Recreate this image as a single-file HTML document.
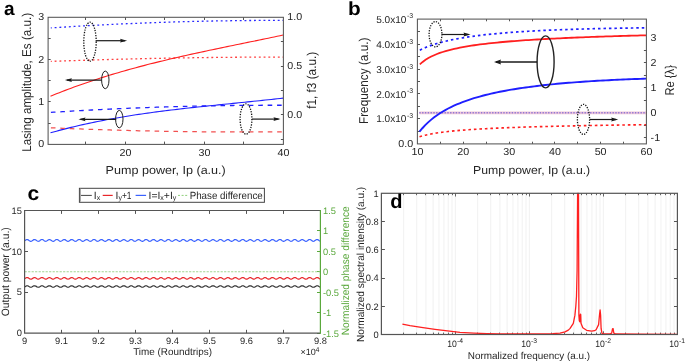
<!DOCTYPE html>
<html><head><meta charset="utf-8"><style>
html,body{margin:0;padding:0;background:#fff;}
svg{display:block;will-change:transform;}
text{font-family:"Liberation Sans", sans-serif;text-rendering:geometricPrecision;}
</style></head><body>
<svg width="685" height="362" viewBox="0 0 685 362">
<rect width="685" height="362" fill="#fff"/>
<line x1="85.5" y1="17.3" x2="85.5" y2="20.0" stroke="#555555" stroke-width="1"/>
<line x1="85.5" y1="144.4" x2="85.5" y2="141.6" stroke="#555555" stroke-width="1"/>
<line x1="125.5" y1="17.3" x2="125.5" y2="20.0" stroke="#555555" stroke-width="1"/>
<line x1="125.5" y1="144.4" x2="125.5" y2="141.6" stroke="#555555" stroke-width="1"/>
<line x1="164.5" y1="17.3" x2="164.5" y2="20.0" stroke="#555555" stroke-width="1"/>
<line x1="164.5" y1="144.4" x2="164.5" y2="141.6" stroke="#555555" stroke-width="1"/>
<line x1="204.5" y1="17.3" x2="204.5" y2="20.0" stroke="#555555" stroke-width="1"/>
<line x1="204.5" y1="144.4" x2="204.5" y2="141.6" stroke="#555555" stroke-width="1"/>
<line x1="243.5" y1="17.3" x2="243.5" y2="20.0" stroke="#555555" stroke-width="1"/>
<line x1="243.5" y1="144.4" x2="243.5" y2="141.6" stroke="#555555" stroke-width="1"/>
<line x1="48.1" y1="38.5" x2="50.7" y2="38.5" stroke="#555555" stroke-width="1"/>
<line x1="48.1" y1="59.5" x2="50.7" y2="59.5" stroke="#555555" stroke-width="1"/>
<line x1="48.1" y1="80.5" x2="50.7" y2="80.5" stroke="#555555" stroke-width="1"/>
<line x1="48.1" y1="101.5" x2="50.7" y2="101.5" stroke="#555555" stroke-width="1"/>
<line x1="48.1" y1="123.5" x2="50.7" y2="123.5" stroke="#555555" stroke-width="1"/>
<line x1="283.4" y1="41.5" x2="280.9" y2="41.5" stroke="#555555" stroke-width="1"/>
<line x1="283.4" y1="66.5" x2="280.9" y2="66.5" stroke="#555555" stroke-width="1"/>
<line x1="283.4" y1="90.5" x2="280.9" y2="90.5" stroke="#555555" stroke-width="1"/>
<line x1="283.4" y1="114.5" x2="280.9" y2="114.5" stroke="#555555" stroke-width="1"/>
<line x1="283.4" y1="139.5" x2="280.9" y2="139.5" stroke="#555555" stroke-width="1"/>
<path d="M50.80,27.93 L53.74,27.73 L56.68,27.54 L59.62,27.35 L62.56,27.17 L65.50,26.98 L68.44,26.80 L71.37,26.62 L74.31,26.45 L77.25,26.27 L80.19,26.10 L83.13,25.93 L86.07,25.77 L89.01,25.60 L91.95,25.44 L94.89,25.28 L97.83,25.13 L100.77,24.97 L103.71,24.82 L106.65,24.67 L109.58,24.53 L112.52,24.38 L115.46,24.24 L118.40,24.11 L121.34,23.97 L124.28,23.84 L127.22,23.71 L130.16,23.58 L133.10,23.45 L136.04,23.33 L138.98,23.21 L141.92,23.09 L144.86,22.98 L147.79,22.86 L150.73,22.75 L153.67,22.64 L156.61,22.54 L159.55,22.44 L162.49,22.34 L165.43,22.24 L168.37,22.14 L171.31,22.05 L174.25,21.96 L177.19,21.87 L180.13,21.79 L183.07,21.71 L186.01,21.63 L188.94,21.55 L191.88,21.47 L194.82,21.40 L197.76,21.33 L200.70,21.27 L203.64,21.20 L206.58,21.14 L209.52,21.08 L212.46,21.02 L215.40,20.97 L218.34,20.92 L221.28,20.87 L224.22,20.82 L227.15,20.78 L230.09,20.73 L233.03,20.69 L235.97,20.66 L238.91,20.62 L241.85,20.59 L244.79,20.56 L247.73,20.54 L250.67,20.51 L253.61,20.49 L256.55,20.47 L259.49,20.46 L262.43,20.44 L265.36,20.43 L268.30,20.42 L271.24,20.42 L274.18,20.41 L277.12,20.41 L280.06,20.41 L283.00,20.42" fill="none" stroke="#2a2aff" stroke-width="1.3" stroke-dasharray="1.9 2.85" stroke-dashoffset="0.9"/>
<path d="M50.80,61.40 L53.74,61.29 L56.68,61.18 L59.62,61.08 L62.56,60.97 L65.50,60.87 L68.44,60.77 L71.37,60.67 L74.31,60.57 L77.25,60.48 L80.19,60.38 L83.13,60.29 L86.07,60.19 L89.01,60.10 L91.95,60.01 L94.89,59.92 L97.83,59.84 L100.77,59.75 L103.71,59.67 L106.65,59.58 L109.58,59.50 L112.52,59.42 L115.46,59.34 L118.40,59.26 L121.34,59.19 L124.28,59.11 L127.22,59.04 L130.16,58.96 L133.10,58.89 L136.04,58.82 L138.98,58.76 L141.92,58.69 L144.86,58.62 L147.79,58.56 L150.73,58.49 L153.67,58.43 L156.61,58.37 L159.55,58.31 L162.49,58.25 L165.43,58.20 L168.37,58.14 L171.31,58.09 L174.25,58.04 L177.19,57.99 L180.13,57.94 L183.07,57.89 L186.01,57.84 L188.94,57.79 L191.88,57.75 L194.82,57.71 L197.76,57.66 L200.70,57.62 L203.64,57.59 L206.58,57.55 L209.52,57.51 L212.46,57.48 L215.40,57.44 L218.34,57.41 L221.28,57.38 L224.22,57.35 L227.15,57.32 L230.09,57.29 L233.03,57.27 L235.97,57.24 L238.91,57.22 L241.85,57.20 L244.79,57.18 L247.73,57.16 L250.67,57.14 L253.61,57.13 L256.55,57.11 L259.49,57.10 L262.43,57.08 L265.36,57.07 L268.30,57.06 L271.24,57.06 L274.18,57.05 L277.12,57.04 L280.06,57.04 L283.00,57.04" fill="none" stroke="#ff4040" stroke-width="1.3" stroke-dasharray="1.9 2.85" stroke-dashoffset="0.9"/>
<path d="M50.50,96.22 L53.44,95.01 L56.39,93.83 L59.33,92.66 L62.27,91.51 L65.22,90.38 L68.16,89.27 L71.10,88.17 L74.04,87.09 L76.99,86.02 L79.93,84.97 L82.87,83.94 L85.82,82.92 L88.76,81.92 L91.70,80.93 L94.65,79.96 L97.59,79.00 L100.53,78.05 L103.47,77.12 L106.42,76.20 L109.36,75.30 L112.30,74.40 L115.25,73.52 L118.19,72.66 L121.13,71.80 L124.08,70.96 L127.02,70.12 L129.96,69.30 L132.91,68.49 L135.85,67.69 L138.79,66.90 L141.73,66.12 L144.68,65.35 L147.62,64.59 L150.56,63.84 L153.51,63.10 L156.45,62.37 L159.39,61.64 L162.34,60.93 L165.28,60.22 L168.22,59.52 L171.16,58.82 L174.11,58.13 L177.05,57.45 L179.99,56.78 L182.94,56.11 L185.88,55.45 L188.82,54.79 L191.77,54.14 L194.71,53.50 L197.65,52.86 L200.59,52.22 L203.54,51.59 L206.48,50.96 L209.42,50.33 L212.37,49.71 L215.31,49.09 L218.25,48.48 L221.20,47.86 L224.14,47.25 L227.08,46.64 L230.03,46.04 L232.97,45.43 L235.91,44.83 L238.85,44.22 L241.80,43.62 L244.74,43.02 L247.68,42.41 L250.63,41.81 L253.57,41.21 L256.51,40.60 L259.46,40.00 L262.40,39.39 L265.34,38.78 L268.28,38.17 L271.23,37.56 L274.17,36.94 L277.11,36.32 L280.06,35.70 L283.00,35.08" fill="none" stroke="#ff2020" stroke-width="1.1"/>
<path d="M50.90,112.40 L53.84,112.21 L56.78,112.02 L59.71,111.84 L62.65,111.66 L65.59,111.49 L68.53,111.31 L71.47,111.14 L74.40,110.97 L77.34,110.80 L80.28,110.64 L83.22,110.48 L86.16,110.32 L89.09,110.16 L92.03,110.00 L94.97,109.85 L97.91,109.70 L100.85,109.55 L103.78,109.41 L106.72,109.27 L109.66,109.13 L112.60,108.99 L115.54,108.85 L118.47,108.72 L121.41,108.59 L124.35,108.46 L127.29,108.34 L130.23,108.22 L133.16,108.10 L136.10,107.98 L139.04,107.86 L141.98,107.75 L144.92,107.64 L147.85,107.53 L150.79,107.43 L153.73,107.32 L156.67,107.22 L159.61,107.13 L162.54,107.03 L165.48,106.94 L168.42,106.85 L171.36,106.76 L174.29,106.67 L177.23,106.59 L180.17,106.51 L183.11,106.43 L186.05,106.36 L188.98,106.28 L191.92,106.21 L194.86,106.15 L197.80,106.08 L200.74,106.02 L203.67,105.96 L206.61,105.90 L209.55,105.84 L212.49,105.79 L215.43,105.74 L218.36,105.69 L221.30,105.65 L224.24,105.60 L227.18,105.56 L230.12,105.52 L233.05,105.49 L235.99,105.45 L238.93,105.42 L241.87,105.39 L244.81,105.37 L247.74,105.34 L250.68,105.32 L253.62,105.31 L256.56,105.29 L259.50,105.28 L262.43,105.26 L265.37,105.26 L268.31,105.25 L271.25,105.25 L274.19,105.25 L277.12,105.25 L280.06,105.25 L283.00,105.26" fill="none" stroke="#2020ff" stroke-width="1.3" stroke-dasharray="4.6 4.83"/>
<path d="M50.50,132.83 L53.44,132.00 L56.39,131.19 L59.33,130.40 L62.27,129.63 L65.22,128.87 L68.16,128.12 L71.10,127.40 L74.04,126.69 L76.99,125.99 L79.93,125.31 L82.87,124.64 L85.82,123.99 L88.76,123.35 L91.70,122.73 L94.65,122.11 L97.59,121.52 L100.53,120.93 L103.47,120.36 L106.42,119.80 L109.36,119.25 L112.30,118.72 L115.25,118.19 L118.19,117.68 L121.13,117.18 L124.08,116.69 L127.02,116.20 L129.96,115.73 L132.91,115.27 L135.85,114.82 L138.79,114.38 L141.73,113.94 L144.68,113.52 L147.62,113.10 L150.56,112.69 L153.51,112.29 L156.45,111.90 L159.39,111.52 L162.34,111.14 L165.28,110.76 L168.22,110.40 L171.16,110.04 L174.11,109.69 L177.05,109.34 L179.99,108.99 L182.94,108.66 L185.88,108.32 L188.82,108.00 L191.77,107.67 L194.71,107.35 L197.65,107.03 L200.59,106.72 L203.54,106.41 L206.48,106.10 L209.42,105.79 L212.37,105.49 L215.31,105.19 L218.25,104.89 L221.20,104.59 L224.14,104.29 L227.08,103.99 L230.03,103.70 L232.97,103.40 L235.91,103.10 L238.85,102.81 L241.80,102.51 L244.74,102.21 L247.68,101.91 L250.63,101.61 L253.57,101.30 L256.51,101.00 L259.46,100.69 L262.40,100.38 L265.34,100.07 L268.28,99.75 L271.23,99.43 L274.17,99.10 L277.11,98.78 L280.06,98.44 L283.00,98.10" fill="none" stroke="#2020ff" stroke-width="1.1"/>
<path d="M50.90,127.79 L53.84,127.92 L56.78,128.05 L59.71,128.17 L62.65,128.29 L65.59,128.41 L68.53,128.53 L71.47,128.64 L74.40,128.76 L77.34,128.87 L80.28,128.98 L83.22,129.09 L86.16,129.19 L89.09,129.30 L92.03,129.40 L94.97,129.50 L97.91,129.60 L100.85,129.69 L103.78,129.79 L106.72,129.88 L109.66,129.97 L112.60,130.06 L115.54,130.14 L118.47,130.23 L121.41,130.31 L124.35,130.39 L127.29,130.47 L130.23,130.54 L133.16,130.62 L136.10,130.69 L139.04,130.76 L141.98,130.83 L144.92,130.89 L147.85,130.96 L150.79,131.02 L153.73,131.08 L156.67,131.14 L159.61,131.19 L162.54,131.25 L165.48,131.30 L168.42,131.35 L171.36,131.40 L174.29,131.44 L177.23,131.49 L180.17,131.53 L183.11,131.57 L186.05,131.61 L188.98,131.64 L191.92,131.68 L194.86,131.71 L197.80,131.74 L200.74,131.77 L203.67,131.80 L206.61,131.82 L209.55,131.84 L212.49,131.86 L215.43,131.88 L218.36,131.90 L221.30,131.91 L224.24,131.92 L227.18,131.93 L230.12,131.94 L233.05,131.95 L235.99,131.95 L238.93,131.96 L241.87,131.96 L244.81,131.96 L247.74,131.95 L250.68,131.95 L253.62,131.94 L256.56,131.93 L259.50,131.92 L262.43,131.90 L265.37,131.89 L268.31,131.87 L271.25,131.85 L274.19,131.83 L277.12,131.81 L280.06,131.78 L283.00,131.76" fill="none" stroke="#f25050" stroke-width="1.25" stroke-dasharray="4.6 4.83"/>
<ellipse cx="90.0" cy="41.7" rx="6.2" ry="19.5" fill="none" stroke="#111" stroke-width="1.3" stroke-dasharray="1.25 1.3"/>
<line x1="96.2" y1="40.7" x2="125.1" y2="40.7" stroke="#1a1a1a" stroke-width="1.2"/>
<path d="M127.1,40.7 L120.1,38.800000000000004 L120.89999999999999,40.7 L120.1,42.6 Z" fill="#1a1a1a"/>
<ellipse cx="105.3" cy="79.9" rx="3.7" ry="8.8" fill="none" stroke="#222" stroke-width="1.0"/>
<line x1="101.5" y1="80.1" x2="66.9" y2="80.1" stroke="#1a1a1a" stroke-width="1.2"/>
<path d="M64.9,80.1 L71.9,78.19999999999999 L71.10000000000001,80.1 L71.9,82.0 Z" fill="#1a1a1a"/>
<ellipse cx="119.3" cy="119.1" rx="3.7" ry="8.7" fill="none" stroke="#222" stroke-width="1.0"/>
<line x1="116.2" y1="119.3" x2="80.5" y2="119.3" stroke="#1a1a1a" stroke-width="1.2"/>
<path d="M78.5,119.3 L85.5,117.39999999999999 L84.7,119.3 L85.5,121.2 Z" fill="#1a1a1a"/>
<ellipse cx="246.0" cy="119.0" rx="5.9" ry="15.2" fill="none" stroke="#111" stroke-width="1.3" stroke-dasharray="1.25 1.3"/>
<line x1="251.8" y1="119.1" x2="278.5" y2="119.1" stroke="#1a1a1a" stroke-width="1.2"/>
<path d="M280.5,119.1 L273.5,117.19999999999999 L274.3,119.1 L273.5,121.0 Z" fill="#1a1a1a"/>
<rect x="48.1" y="17.3" width="235.29999999999998" height="127.10000000000001" fill="none" stroke="#555555" stroke-width="1.05"/>
<text x="44.2" y="20.0" font-size="10.1" text-anchor="end" font-weight="normal" fill="#262626" textLength="5.95" lengthAdjust="spacingAndGlyphs">3</text>
<text x="44.2" y="62.5" font-size="10.1" text-anchor="end" font-weight="normal" fill="#262626" textLength="5.95" lengthAdjust="spacingAndGlyphs">2</text>
<text x="44.2" y="104.9" font-size="10.1" text-anchor="end" font-weight="normal" fill="#262626" textLength="5.95" lengthAdjust="spacingAndGlyphs">1</text>
<text x="44.2" y="147.20000000000002" font-size="10.1" text-anchor="end" font-weight="normal" fill="#262626" textLength="5.95" lengthAdjust="spacingAndGlyphs">0</text>
<text x="125.5" y="155.5" font-size="10.1" text-anchor="middle" font-weight="normal" fill="#262626" textLength="11.91" lengthAdjust="spacingAndGlyphs">20</text>
<text x="204.5" y="155.5" font-size="10.1" text-anchor="middle" font-weight="normal" fill="#262626" textLength="11.91" lengthAdjust="spacingAndGlyphs">30</text>
<text x="283.4" y="155.5" font-size="10.1" text-anchor="middle" font-weight="normal" fill="#262626" textLength="11.91" lengthAdjust="spacingAndGlyphs">40</text>
<text x="287.3" y="20.3" font-size="10.1" text-anchor="start" font-weight="normal" fill="#262626" textLength="14.88" lengthAdjust="spacingAndGlyphs">1.0</text>
<text x="287.3" y="69.2" font-size="10.1" text-anchor="start" font-weight="normal" fill="#262626" textLength="14.88" lengthAdjust="spacingAndGlyphs">0.5</text>
<text x="287.3" y="118.0" font-size="10.1" text-anchor="start" font-weight="normal" fill="#262626" textLength="14.88" lengthAdjust="spacingAndGlyphs">0.0</text>
<text x="105.6" y="174.0" font-size="11.6" text-anchor="start" font-weight="normal" fill="#262626" textLength="120.2" lengthAdjust="spacingAndGlyphs">Pump power, Ip (a.u.)</text>
<text transform="translate(31.0,151.8) rotate(-90)" font-size="12.8" text-anchor="start" font-weight="normal" fill="#262626" textLength="139.0" lengthAdjust="spacingAndGlyphs">Lasing amplitude, Es (a.u.)</text>
<text transform="translate(315.8,108.8) rotate(-90)" font-size="12.8" text-anchor="start" font-weight="normal" fill="#262626" textLength="57" lengthAdjust="spacingAndGlyphs">f1, f3 (a.u.)</text>
<text x="4.0" y="15.0" font-size="19" text-anchor="start" font-weight="bold" fill="#000">a</text>
<line x1="440.5" y1="19.1" x2="440.5" y2="21.3" stroke="#555555" stroke-width="1"/>
<line x1="440.5" y1="143.9" x2="440.5" y2="141.70000000000002" stroke="#555555" stroke-width="1"/>
<line x1="463.5" y1="19.1" x2="463.5" y2="21.3" stroke="#555555" stroke-width="1"/>
<line x1="463.5" y1="143.9" x2="463.5" y2="141.70000000000002" stroke="#555555" stroke-width="1"/>
<line x1="486.5" y1="19.1" x2="486.5" y2="21.3" stroke="#555555" stroke-width="1"/>
<line x1="486.5" y1="143.9" x2="486.5" y2="141.70000000000002" stroke="#555555" stroke-width="1"/>
<line x1="509.5" y1="19.1" x2="509.5" y2="21.3" stroke="#555555" stroke-width="1"/>
<line x1="509.5" y1="143.9" x2="509.5" y2="141.70000000000002" stroke="#555555" stroke-width="1"/>
<line x1="532.5" y1="19.1" x2="532.5" y2="21.3" stroke="#555555" stroke-width="1"/>
<line x1="532.5" y1="143.9" x2="532.5" y2="141.70000000000002" stroke="#555555" stroke-width="1"/>
<line x1="554.5" y1="19.1" x2="554.5" y2="21.3" stroke="#555555" stroke-width="1"/>
<line x1="554.5" y1="143.9" x2="554.5" y2="141.70000000000002" stroke="#555555" stroke-width="1"/>
<line x1="577.5" y1="19.1" x2="577.5" y2="21.3" stroke="#555555" stroke-width="1"/>
<line x1="577.5" y1="143.9" x2="577.5" y2="141.70000000000002" stroke="#555555" stroke-width="1"/>
<line x1="600.5" y1="19.1" x2="600.5" y2="21.3" stroke="#555555" stroke-width="1"/>
<line x1="600.5" y1="143.9" x2="600.5" y2="141.70000000000002" stroke="#555555" stroke-width="1"/>
<line x1="623.5" y1="19.1" x2="623.5" y2="21.3" stroke="#555555" stroke-width="1"/>
<line x1="623.5" y1="143.9" x2="623.5" y2="141.70000000000002" stroke="#555555" stroke-width="1"/>
<line x1="417.4" y1="131.5" x2="420.0" y2="131.5" stroke="#555555" stroke-width="1"/>
<line x1="417.4" y1="118.5" x2="420.0" y2="118.5" stroke="#555555" stroke-width="1"/>
<line x1="417.4" y1="106.5" x2="420.0" y2="106.5" stroke="#555555" stroke-width="1"/>
<line x1="417.4" y1="93.5" x2="420.0" y2="93.5" stroke="#555555" stroke-width="1"/>
<line x1="417.4" y1="81.5" x2="420.0" y2="81.5" stroke="#555555" stroke-width="1"/>
<line x1="417.4" y1="69.5" x2="420.0" y2="69.5" stroke="#555555" stroke-width="1"/>
<line x1="417.4" y1="56.5" x2="420.0" y2="56.5" stroke="#555555" stroke-width="1"/>
<line x1="417.4" y1="44.5" x2="420.0" y2="44.5" stroke="#555555" stroke-width="1"/>
<line x1="417.4" y1="31.5" x2="420.0" y2="31.5" stroke="#555555" stroke-width="1"/>
<line x1="646.4" y1="137.5" x2="643.9" y2="137.5" stroke="#555555" stroke-width="1"/>
<line x1="646.4" y1="125.5" x2="643.9" y2="125.5" stroke="#555555" stroke-width="1"/>
<line x1="646.4" y1="112.5" x2="643.9" y2="112.5" stroke="#555555" stroke-width="1"/>
<line x1="646.4" y1="100.5" x2="643.9" y2="100.5" stroke="#555555" stroke-width="1"/>
<line x1="646.4" y1="87.5" x2="643.9" y2="87.5" stroke="#555555" stroke-width="1"/>
<line x1="646.4" y1="75.5" x2="643.9" y2="75.5" stroke="#555555" stroke-width="1"/>
<line x1="646.4" y1="62.5" x2="643.9" y2="62.5" stroke="#555555" stroke-width="1"/>
<line x1="646.4" y1="50.5" x2="643.9" y2="50.5" stroke="#555555" stroke-width="1"/>
<path d="M419.3,112.8 L646,112.8" fill="none" stroke="#f0c8d8" stroke-width="2.8"/>
<path d="M419.3,112.8 L646,112.8" fill="none" stroke="#8f78d6" stroke-width="1.6" stroke-dasharray="1.4 1.4"/>
<path d="M419.80,50.15 L422.66,48.78 L425.53,47.53 L428.39,46.39 L431.25,45.35 L434.12,44.39 L436.98,43.51 L439.84,42.69 L442.71,41.93 L445.57,41.22 L448.43,40.55 L451.30,39.93 L454.16,39.35 L457.02,38.80 L459.89,38.28 L462.75,37.79 L465.61,37.33 L468.48,36.89 L471.34,36.48 L474.20,36.09 L477.07,35.71 L479.93,35.36 L482.79,35.02 L485.66,34.70 L488.52,34.39 L491.38,34.09 L494.25,33.81 L497.11,33.55 L499.97,33.29 L502.84,33.04 L505.70,32.81 L508.56,32.58 L511.43,32.37 L514.29,32.16 L517.15,31.96 L520.02,31.77 L522.88,31.59 L525.74,31.41 L528.61,31.24 L531.47,31.08 L534.33,30.92 L537.19,30.77 L540.06,30.63 L542.92,30.49 L545.78,30.35 L548.65,30.22 L551.51,30.10 L554.37,29.98 L557.24,29.87 L560.10,29.76 L562.96,29.65 L565.83,29.55 L568.69,29.45 L571.55,29.35 L574.42,29.26 L577.28,29.17 L580.14,29.09 L583.01,29.01 L585.87,28.93 L588.73,28.85 L591.60,28.78 L594.46,28.71 L597.32,28.65 L600.19,28.58 L603.05,28.52 L605.91,28.46 L608.78,28.40 L611.64,28.35 L614.50,28.30 L617.37,28.25 L620.23,28.20 L623.09,28.15 L625.96,28.11 L628.82,28.07 L631.68,28.02 L634.55,27.99 L637.41,27.95 L640.27,27.91 L643.14,27.88 L646.00,27.85" fill="none" stroke="#1f1fff" stroke-width="1.7" stroke-dasharray="2.5 2.97"/>
<path d="M419.80,64.37 L422.66,61.91 L425.53,59.85 L428.39,58.08 L431.25,56.56 L434.12,55.21 L436.98,54.02 L439.84,52.95 L442.71,51.99 L445.57,51.11 L448.43,50.31 L451.30,49.57 L454.16,48.89 L457.02,48.26 L459.89,47.68 L462.75,47.13 L465.61,46.62 L468.48,46.14 L471.34,45.69 L474.20,45.26 L477.07,44.86 L479.93,44.47 L482.79,44.11 L485.66,43.77 L488.52,43.44 L491.38,43.12 L494.25,42.82 L497.11,42.54 L499.97,42.26 L502.84,42.00 L505.70,41.74 L508.56,41.50 L511.43,41.27 L514.29,41.04 L517.15,40.82 L520.02,40.61 L522.88,40.41 L525.74,40.22 L528.61,40.03 L531.47,39.84 L534.33,39.66 L537.19,39.49 L540.06,39.32 L542.92,39.16 L545.78,39.00 L548.65,38.85 L551.51,38.70 L554.37,38.56 L557.24,38.42 L560.10,38.28 L562.96,38.14 L565.83,38.01 L568.69,37.89 L571.55,37.76 L574.42,37.64 L577.28,37.52 L580.14,37.41 L583.01,37.29 L585.87,37.18 L588.73,37.08 L591.60,36.97 L594.46,36.87 L597.32,36.76 L600.19,36.67 L603.05,36.57 L605.91,36.47 L608.78,36.38 L611.64,36.29 L614.50,36.20 L617.37,36.11 L620.23,36.02 L623.09,35.94 L625.96,35.86 L628.82,35.77 L631.68,35.69 L634.55,35.61 L637.41,35.54 L640.27,35.46 L643.14,35.39 L646.00,35.31" fill="none" stroke="#ff1f1f" stroke-width="1.8"/>
<path d="M419.50,131.66 L422.37,128.25 L425.23,125.18 L428.10,122.40 L430.97,119.88 L433.84,117.57 L436.70,115.47 L439.57,113.52 L442.44,111.73 L445.30,110.06 L448.17,108.52 L451.04,107.07 L453.91,105.72 L456.77,104.45 L459.64,103.26 L462.51,102.13 L465.37,101.07 L468.24,100.07 L471.11,99.12 L473.97,98.21 L476.84,97.36 L479.71,96.54 L482.58,95.77 L485.44,95.03 L488.31,94.32 L491.18,93.65 L494.04,93.01 L496.91,92.39 L499.78,91.80 L502.65,91.24 L505.51,90.70 L508.38,90.18 L511.25,89.68 L514.11,89.20 L516.98,88.74 L519.85,88.30 L522.72,87.87 L525.58,87.46 L528.45,87.07 L531.32,86.69 L534.18,86.32 L537.05,85.97 L539.92,85.63 L542.78,85.30 L545.65,84.98 L548.52,84.68 L551.39,84.38 L554.25,84.10 L557.12,83.82 L559.99,83.56 L562.85,83.30 L565.72,83.05 L568.59,82.81 L571.46,82.58 L574.32,82.36 L577.19,82.14 L580.06,81.93 L582.92,81.73 L585.79,81.54 L588.66,81.35 L591.53,81.17 L594.39,80.99 L597.26,80.82 L600.13,80.65 L602.99,80.50 L605.86,80.34 L608.73,80.19 L611.59,80.05 L614.46,79.91 L617.33,79.78 L620.20,79.65 L623.06,79.52 L625.93,79.40 L628.80,79.28 L631.66,79.17 L634.53,79.06 L637.40,78.95 L640.27,78.85 L643.13,78.75 L646.00,78.66" fill="none" stroke="#1f1fff" stroke-width="1.9"/>
<path d="M419.50,136.79 L422.37,135.92 L425.23,135.17 L428.10,134.52 L430.97,133.95 L433.84,133.44 L436.70,132.98 L439.57,132.56 L442.44,132.17 L445.30,131.82 L448.17,131.50 L451.04,131.20 L453.91,130.91 L456.77,130.65 L459.64,130.40 L462.51,130.17 L465.37,129.95 L468.24,129.75 L471.11,129.55 L473.97,129.36 L476.84,129.19 L479.71,129.02 L482.58,128.86 L485.44,128.70 L488.31,128.56 L491.18,128.41 L494.04,128.28 L496.91,128.15 L499.78,128.02 L502.65,127.90 L505.51,127.78 L508.38,127.67 L511.25,127.56 L514.11,127.46 L516.98,127.36 L519.85,127.26 L522.72,127.16 L525.58,127.07 L528.45,126.98 L531.32,126.89 L534.18,126.81 L537.05,126.73 L539.92,126.65 L542.78,126.57 L545.65,126.50 L548.52,126.42 L551.39,126.35 L554.25,126.28 L557.12,126.21 L559.99,126.15 L562.85,126.08 L565.72,126.02 L568.59,125.96 L571.46,125.90 L574.32,125.84 L577.19,125.78 L580.06,125.72 L582.92,125.67 L585.79,125.61 L588.66,125.56 L591.53,125.51 L594.39,125.46 L597.26,125.41 L600.13,125.36 L602.99,125.31 L605.86,125.27 L608.73,125.22 L611.59,125.17 L614.46,125.13 L617.33,125.09 L620.20,125.04 L623.06,125.00 L625.93,124.96 L628.80,124.92 L631.66,124.88 L634.53,124.84 L637.40,124.81 L640.27,124.77 L643.13,124.73 L646.00,124.69" fill="none" stroke="#ff1f1f" stroke-width="1.6" stroke-dasharray="2.6 2.9"/>
<ellipse cx="435.5" cy="34.2" rx="6.4" ry="12.6" fill="none" stroke="#111" stroke-width="1.3" stroke-dasharray="1.25 1.3"/>
<line x1="441.9" y1="34.5" x2="468.5" y2="34.5" stroke="#1a1a1a" stroke-width="1.2"/>
<path d="M470.5,34.5 L463.5,32.6 L464.3,34.5 L463.5,36.4 Z" fill="#1a1a1a"/>
<ellipse cx="545.6" cy="61.9" rx="8.5" ry="26.0" fill="none" stroke="#222" stroke-width="1.4"/>
<line x1="537.1" y1="62.0" x2="496.0" y2="62.0" stroke="#1a1a1a" stroke-width="1.6"/>
<path d="M494.0,62.0 L501.0,59.6 L500.2,62.0 L501.0,64.4 Z" fill="#1a1a1a"/>
<ellipse cx="583.5" cy="119.4" rx="6.1" ry="15.0" fill="none" stroke="#111" stroke-width="1.3" stroke-dasharray="1.25 1.3"/>
<line x1="589.8" y1="119.5" x2="616.2" y2="119.5" stroke="#1a1a1a" stroke-width="1.2"/>
<path d="M618.2,119.5 L611.2,117.6 L612.0,119.5 L611.2,121.4 Z" fill="#1a1a1a"/>
<rect x="417.4" y="19.1" width="229.0" height="124.80000000000001" fill="none" stroke="#555555" stroke-width="1.05"/>
<text x="413.2" y="146.7" font-size="10.1" text-anchor="end" font-weight="normal" fill="#262626" textLength="14.88" lengthAdjust="spacingAndGlyphs">0.0</text>
<text x="376.2" y="122.1" font-size="10" text-anchor="start" fill="#262626" textLength="30.3" lengthAdjust="spacingAndGlyphs">1.0x10</text>
<text x="406.9" y="117.6" font-size="7" text-anchor="start" fill="#262626">-3</text>
<text x="376.2" y="97.6" font-size="10" text-anchor="start" fill="#262626" textLength="30.3" lengthAdjust="spacingAndGlyphs">2.0x10</text>
<text x="406.9" y="93.1" font-size="7" text-anchor="start" fill="#262626">-3</text>
<text x="376.2" y="73.0" font-size="10" text-anchor="start" fill="#262626" textLength="30.3" lengthAdjust="spacingAndGlyphs">3.0x10</text>
<text x="406.9" y="68.5" font-size="7" text-anchor="start" fill="#262626">-3</text>
<text x="376.2" y="48.0" font-size="10" text-anchor="start" fill="#262626" textLength="30.3" lengthAdjust="spacingAndGlyphs">4.0x10</text>
<text x="406.9" y="43.5" font-size="7" text-anchor="start" fill="#262626">-3</text>
<text x="376.2" y="22.9" font-size="10" text-anchor="start" fill="#262626" textLength="30.3" lengthAdjust="spacingAndGlyphs">5.0x10</text>
<text x="406.9" y="18.4" font-size="7" text-anchor="start" fill="#262626">-3</text>
<text x="417.4" y="155.1" font-size="10.1" text-anchor="middle" font-weight="normal" fill="#262626" textLength="11.91" lengthAdjust="spacingAndGlyphs">10</text>
<text x="463.2" y="155.1" font-size="10.1" text-anchor="middle" font-weight="normal" fill="#262626" textLength="11.91" lengthAdjust="spacingAndGlyphs">20</text>
<text x="509.2" y="155.1" font-size="10.1" text-anchor="middle" font-weight="normal" fill="#262626" textLength="11.91" lengthAdjust="spacingAndGlyphs">30</text>
<text x="554.9" y="155.1" font-size="10.1" text-anchor="middle" font-weight="normal" fill="#262626" textLength="11.91" lengthAdjust="spacingAndGlyphs">40</text>
<text x="600.6" y="155.1" font-size="10.1" text-anchor="middle" font-weight="normal" fill="#262626" textLength="11.91" lengthAdjust="spacingAndGlyphs">50</text>
<text x="646.4" y="155.1" font-size="10.1" text-anchor="middle" font-weight="normal" fill="#262626" textLength="11.91" lengthAdjust="spacingAndGlyphs">60</text>
<text x="650.6" y="41.400000000000006" font-size="10.1" text-anchor="start" font-weight="normal" fill="#262626" textLength="5.95" lengthAdjust="spacingAndGlyphs">3</text>
<text x="650.6" y="66.4" font-size="10.1" text-anchor="start" font-weight="normal" fill="#262626" textLength="5.95" lengthAdjust="spacingAndGlyphs">2</text>
<text x="650.6" y="91.4" font-size="10.1" text-anchor="start" font-weight="normal" fill="#262626" textLength="5.95" lengthAdjust="spacingAndGlyphs">1</text>
<text x="650.6" y="116.4" font-size="10.1" text-anchor="start" font-weight="normal" fill="#262626" textLength="5.95" lengthAdjust="spacingAndGlyphs">0</text>
<text x="650.6" y="141.39999999999998" font-size="10.1" text-anchor="start" font-weight="normal" fill="#262626" textLength="9.52" lengthAdjust="spacingAndGlyphs">-1</text>
<text x="473.0" y="174.3" font-size="11.6" text-anchor="start" font-weight="normal" fill="#262626" textLength="117.2" lengthAdjust="spacingAndGlyphs">Pump power, Ip (a.u.)</text>
<text transform="translate(368.0,124.0) rotate(-90)" font-size="12.8" text-anchor="start" font-weight="normal" fill="#262626" textLength="86.4" lengthAdjust="spacingAndGlyphs">Frequency (a.u.)</text>
<text transform="translate(673.6,95.6) rotate(-90)" font-size="12.8" text-anchor="start" font-weight="normal" fill="#262626" textLength="30.6" lengthAdjust="spacingAndGlyphs">Re {λ}</text>
<text x="347.9" y="14.9" font-size="19" text-anchor="start" font-weight="bold" fill="#000" textLength="12.7" lengthAdjust="spacingAndGlyphs">b</text>
<line x1="61.5" y1="210.5" x2="61.5" y2="213.9" stroke="#555555" stroke-width="1"/>
<line x1="61.5" y1="333.2" x2="61.5" y2="329.8" stroke="#555555" stroke-width="1"/>
<line x1="98.5" y1="210.5" x2="98.5" y2="213.9" stroke="#555555" stroke-width="1"/>
<line x1="98.5" y1="333.2" x2="98.5" y2="329.8" stroke="#555555" stroke-width="1"/>
<line x1="135.5" y1="210.5" x2="135.5" y2="213.9" stroke="#555555" stroke-width="1"/>
<line x1="135.5" y1="333.2" x2="135.5" y2="329.8" stroke="#555555" stroke-width="1"/>
<line x1="172.5" y1="210.5" x2="172.5" y2="213.9" stroke="#555555" stroke-width="1"/>
<line x1="172.5" y1="333.2" x2="172.5" y2="329.8" stroke="#555555" stroke-width="1"/>
<line x1="209.5" y1="210.5" x2="209.5" y2="213.9" stroke="#555555" stroke-width="1"/>
<line x1="209.5" y1="333.2" x2="209.5" y2="329.8" stroke="#555555" stroke-width="1"/>
<line x1="246.5" y1="210.5" x2="246.5" y2="213.9" stroke="#555555" stroke-width="1"/>
<line x1="246.5" y1="333.2" x2="246.5" y2="329.8" stroke="#555555" stroke-width="1"/>
<line x1="283.5" y1="210.5" x2="283.5" y2="213.9" stroke="#555555" stroke-width="1"/>
<line x1="283.5" y1="333.2" x2="283.5" y2="329.8" stroke="#555555" stroke-width="1"/>
<line x1="24.6" y1="251.5" x2="28.0" y2="251.5" stroke="#555555" stroke-width="1"/>
<line x1="24.6" y1="292.5" x2="28.0" y2="292.5" stroke="#555555" stroke-width="1"/>
<line x1="320.4" y1="210.5" x2="317.0" y2="210.5" stroke="#5aa83c" stroke-width="1"/>
<line x1="320.4" y1="230.5" x2="317.0" y2="230.5" stroke="#5aa83c" stroke-width="1"/>
<line x1="320.4" y1="251.5" x2="317.0" y2="251.5" stroke="#5aa83c" stroke-width="1"/>
<line x1="320.4" y1="271.5" x2="317.0" y2="271.5" stroke="#5aa83c" stroke-width="1"/>
<line x1="320.4" y1="292.5" x2="317.0" y2="292.5" stroke="#5aa83c" stroke-width="1"/>
<line x1="320.4" y1="312.5" x2="317.0" y2="312.5" stroke="#5aa83c" stroke-width="1"/>
<line x1="320.4" y1="333.5" x2="317.0" y2="333.5" stroke="#5aa83c" stroke-width="1"/>
<path d="M24.6,271.65 L320.4,271.65" stroke="#a2d592" stroke-width="1.05" stroke-dasharray="2.2 1.3" fill="none"/>
<path d="M24.60,240.86 L25.00,240.58 L25.40,240.28 L25.80,239.99 L26.20,239.75 L26.60,239.58 L27.00,239.50 L27.40,239.53 L27.80,239.65 L28.20,239.86 L28.60,240.13 L29.00,240.43 L29.40,240.73 L29.80,240.99 L30.20,241.18 L30.60,241.28 L31.00,241.29 L31.40,241.19 L31.80,241.01 L32.20,240.75 L32.60,240.46 L33.00,240.16 L33.40,239.88 L33.80,239.67 L34.20,239.54 L34.60,239.50 L35.00,239.57 L35.40,239.73 L35.80,239.97 L36.20,240.25 L36.60,240.56 L37.00,240.84 L37.40,241.08 L37.80,241.23 L38.20,241.30 L38.60,241.26 L39.00,241.13 L39.40,240.91 L39.80,240.64 L40.20,240.33 L40.60,240.04 L41.00,239.79 L41.40,239.60 L41.80,239.51 L42.20,239.52 L42.60,239.62 L43.00,239.82 L43.40,240.08 L43.80,240.38 L44.20,240.68 L44.60,240.94 L45.00,241.15 L45.40,241.27 L45.80,241.30 L46.20,241.22 L46.60,241.05 L47.00,240.80 L47.40,240.51 L47.80,240.21 L48.20,239.93 L48.60,239.70 L49.00,239.55 L49.40,239.50 L49.80,239.55 L50.20,239.69 L50.60,239.92 L51.00,240.20 L51.40,240.50 L51.80,240.79 L52.20,241.04 L52.60,241.21 L53.00,241.29 L53.40,241.28 L53.80,241.16 L54.20,240.95 L54.60,240.69 L55.00,240.39 L55.40,240.09 L55.80,239.83 L56.20,239.63 L56.60,239.52 L57.00,239.51 L57.40,239.60 L57.80,239.78 L58.20,240.03 L58.60,240.32 L59.00,240.62 L59.40,240.90 L59.80,241.12 L60.20,241.26 L60.60,241.30 L61.00,241.24 L61.40,241.08 L61.80,240.85 L62.20,240.57 L62.60,240.26 L63.00,239.98 L63.40,239.74 L63.80,239.57 L64.20,239.50 L64.60,239.53 L65.00,239.66 L65.40,239.87 L65.80,240.15 L66.20,240.45 L66.60,240.74 L67.00,241.00 L67.40,241.19 L67.80,241.29 L68.20,241.29 L68.60,241.19 L69.00,241.00 L69.40,240.74 L69.80,240.44 L70.20,240.14 L70.60,239.87 L71.00,239.66 L71.40,239.53 L71.80,239.50 L72.20,239.57 L72.60,239.74 L73.00,239.98 L73.40,240.27 L73.80,240.57 L74.20,240.85 L74.60,241.09 L75.00,241.24 L75.40,241.30 L75.80,241.26 L76.20,241.12 L76.60,240.90 L77.00,240.62 L77.40,240.32 L77.80,240.03 L78.20,239.78 L78.60,239.60 L79.00,239.51 L79.40,239.52 L79.80,239.63 L80.20,239.83 L80.60,240.09 L81.00,240.39 L81.40,240.69 L81.80,240.96 L82.20,241.16 L82.60,241.28 L83.00,241.29 L83.40,241.21 L83.80,241.04 L84.20,240.79 L84.60,240.50 L85.00,240.20 L85.40,239.92 L85.80,239.69 L86.20,239.55 L86.60,239.50 L87.00,239.55 L87.40,239.70 L87.80,239.93 L88.20,240.21 L88.60,240.52 L89.00,240.81 L89.40,241.05 L89.80,241.22 L90.20,241.30 L90.60,241.27 L91.00,241.15 L91.40,240.94 L91.80,240.67 L92.20,240.37 L92.60,240.08 L93.00,239.82 L93.40,239.62 L93.80,239.52 L94.20,239.51 L94.60,239.60 L95.00,239.79 L95.40,240.04 L95.80,240.34 L96.20,240.64 L96.60,240.91 L97.00,241.13 L97.40,241.26 L97.80,241.30 L98.20,241.23 L98.60,241.07 L99.00,240.84 L99.40,240.55 L99.80,240.25 L100.20,239.96 L100.60,239.73 L101.00,239.57 L101.40,239.50 L101.80,239.54 L102.20,239.67 L102.60,239.89 L103.00,240.16 L103.40,240.46 L103.80,240.76 L104.20,241.01 L104.60,241.19 L105.00,241.29 L105.40,241.28 L105.80,241.18 L106.20,240.98 L106.60,240.72 L107.00,240.43 L107.40,240.13 L107.80,239.86 L108.20,239.65 L108.60,239.53 L109.00,239.50 L109.40,239.58 L109.80,239.75 L110.20,239.99 L110.60,240.28 L111.00,240.58 L111.40,240.87 L111.80,241.10 L112.20,241.25 L112.60,241.30 L113.00,241.25 L113.40,241.11 L113.80,240.88 L114.20,240.61 L114.60,240.30 L115.00,240.01 L115.40,239.76 L115.80,239.59 L116.20,239.51 L116.60,239.52 L117.00,239.64 L117.40,239.84 L117.80,240.11 L118.20,240.41 L118.60,240.70 L119.00,240.97 L119.40,241.17 L119.80,241.28 L120.20,241.29 L120.60,241.20 L121.00,241.03 L121.40,240.78 L121.80,240.48 L122.20,240.18 L122.60,239.90 L123.00,239.68 L123.40,239.54 L123.80,239.50 L124.20,239.56 L124.60,239.71 L125.00,239.95 L125.40,240.23 L125.80,240.53 L126.20,240.82 L126.60,241.06 L127.00,241.23 L127.40,241.30 L127.80,241.27 L128.20,241.14 L128.60,240.93 L129.00,240.66 L129.40,240.36 L129.80,240.06 L130.20,239.80 L130.60,239.61 L131.00,239.51 L131.40,239.51 L131.80,239.61 L132.20,239.80 L132.60,240.06 L133.00,240.35 L133.40,240.65 L133.80,240.92 L134.20,241.14 L134.60,241.27 L135.00,241.30 L135.40,241.23 L135.80,241.06 L136.20,240.82 L136.60,240.54 L137.00,240.23 L137.40,239.95 L137.80,239.72 L138.20,239.56 L138.60,239.50 L139.00,239.54 L139.40,239.68 L139.80,239.90 L140.20,240.18 L140.60,240.48 L141.00,240.77 L141.40,241.02 L141.80,241.20 L142.20,241.29 L142.60,241.28 L143.00,241.17 L143.40,240.97 L143.80,240.71 L144.20,240.41 L144.60,240.11 L145.00,239.85 L145.40,239.64 L145.80,239.52 L146.20,239.50 L146.60,239.59 L147.00,239.76 L147.40,240.01 L147.80,240.30 L148.20,240.60 L148.60,240.88 L149.00,241.10 L149.40,241.25 L149.80,241.30 L150.20,241.25 L150.60,241.10 L151.00,240.87 L151.40,240.59 L151.80,240.29 L152.20,240.00 L152.60,239.75 L153.00,239.58 L153.40,239.50 L153.80,239.53 L154.20,239.65 L154.60,239.85 L155.00,240.12 L155.40,240.42 L155.80,240.72 L156.20,240.98 L156.60,241.18 L157.00,241.28 L157.40,241.29 L157.80,241.20 L158.20,241.01 L158.60,240.76 L159.00,240.47 L159.40,240.17 L159.80,239.89 L160.20,239.67 L160.60,239.54 L161.00,239.50 L161.40,239.56 L161.80,239.72 L162.20,239.96 L162.60,240.24 L163.00,240.55 L163.40,240.83 L163.80,241.07 L164.20,241.23 L164.60,241.30 L165.00,241.26 L165.40,241.13 L165.80,240.92 L166.20,240.64 L166.60,240.34 L167.00,240.05 L167.40,239.79 L167.80,239.61 L168.20,239.51 L168.60,239.51 L169.00,239.62 L169.40,239.81 L169.80,240.07 L170.20,240.37 L170.60,240.67 L171.00,240.94 L171.40,241.15 L171.80,241.27 L172.20,241.30 L172.60,241.22 L173.00,241.05 L173.40,240.81 L173.80,240.52 L174.20,240.22 L174.60,239.94 L175.00,239.71 L175.40,239.56 L175.80,239.50 L176.20,239.55 L176.60,239.69 L177.00,239.91 L177.40,240.19 L177.80,240.49 L178.20,240.78 L178.60,241.03 L179.00,241.21 L179.40,241.29 L179.80,241.28 L180.20,241.16 L180.60,240.96 L181.00,240.70 L181.40,240.40 L181.80,240.10 L182.20,239.84 L182.60,239.63 L183.00,239.52 L183.40,239.51 L183.80,239.59 L184.20,239.77 L184.60,240.02 L185.00,240.31 L185.40,240.61 L185.80,240.89 L186.20,241.11 L186.60,241.26 L187.00,241.30 L187.40,241.24 L187.80,241.09 L188.20,240.86 L188.60,240.58 L189.00,240.27 L189.40,239.99 L189.80,239.74 L190.20,239.58 L190.60,239.50 L191.00,239.53 L191.40,239.66 L191.80,239.87 L192.20,240.14 L192.60,240.44 L193.00,240.73 L193.40,240.99 L193.80,241.18 L194.20,241.29 L194.60,241.29 L195.00,241.19 L195.40,241.00 L195.80,240.75 L196.20,240.45 L196.60,240.15 L197.00,239.88 L197.40,239.66 L197.80,239.53 L198.20,239.50 L198.60,239.57 L199.00,239.73 L199.40,239.97 L199.80,240.26 L200.20,240.56 L200.60,240.85 L201.00,241.08 L201.40,241.24 L201.80,241.30 L202.20,241.26 L202.60,241.12 L203.00,240.90 L203.40,240.63 L203.80,240.33 L204.20,240.03 L204.60,239.78 L205.00,239.60 L205.40,239.51 L205.80,239.52 L206.20,239.63 L206.60,239.82 L207.00,240.09 L207.40,240.38 L207.80,240.68 L208.20,240.95 L208.60,241.15 L209.00,241.27 L209.40,241.30 L209.80,241.22 L210.20,241.04 L210.60,240.80 L211.00,240.51 L211.40,240.20 L211.80,239.92 L212.20,239.70 L212.60,239.55 L213.00,239.50 L213.40,239.55 L213.80,239.70 L214.20,239.92 L214.60,240.20 L215.00,240.51 L215.40,240.80 L215.80,241.04 L216.20,241.22 L216.60,241.30 L217.00,241.27 L217.40,241.15 L217.80,240.95 L218.20,240.68 L218.60,240.38 L219.00,240.09 L219.40,239.82 L219.80,239.63 L220.20,239.52 L220.60,239.51 L221.00,239.60 L221.40,239.78 L221.80,240.03 L222.20,240.33 L222.60,240.63 L223.00,240.90 L223.40,241.12 L223.80,241.26 L224.20,241.30 L224.60,241.24 L225.00,241.08 L225.40,240.85 L225.80,240.56 L226.20,240.26 L226.60,239.97 L227.00,239.73 L227.40,239.57 L227.80,239.50 L228.20,239.53 L228.60,239.66 L229.00,239.88 L229.40,240.15 L229.80,240.45 L230.20,240.75 L230.60,241.00 L231.00,241.19 L231.40,241.29 L231.80,241.29 L232.20,241.18 L232.60,240.99 L233.00,240.73 L233.40,240.44 L233.80,240.14 L234.20,239.87 L234.60,239.66 L235.00,239.53 L235.40,239.50 L235.80,239.58 L236.20,239.74 L236.60,239.99 L237.00,240.27 L237.40,240.58 L237.80,240.86 L238.20,241.09 L238.60,241.24 L239.00,241.30 L239.40,241.26 L239.80,241.11 L240.20,240.89 L240.60,240.61 L241.00,240.31 L241.40,240.02 L241.80,239.77 L242.20,239.59 L242.60,239.51 L243.00,239.52 L243.40,239.63 L243.80,239.84 L244.20,240.10 L244.60,240.40 L245.00,240.70 L245.40,240.96 L245.80,241.16 L246.20,241.28 L246.60,241.29 L247.00,241.21 L247.40,241.03 L247.80,240.78 L248.20,240.49 L248.60,240.19 L249.00,239.91 L249.40,239.69 L249.80,239.55 L250.20,239.50 L250.60,239.56 L251.00,239.71 L251.40,239.94 L251.80,240.22 L252.20,240.52 L252.60,240.81 L253.00,241.05 L253.40,241.22 L253.80,241.30 L254.20,241.27 L254.60,241.15 L255.00,240.94 L255.40,240.67 L255.80,240.37 L256.20,240.07 L256.60,239.81 L257.00,239.62 L257.40,239.51 L257.80,239.51 L258.20,239.61 L258.60,239.79 L259.00,240.05 L259.40,240.34 L259.80,240.64 L260.20,240.92 L260.60,241.13 L261.00,241.26 L261.40,241.30 L261.80,241.23 L262.20,241.07 L262.60,240.83 L263.00,240.55 L263.40,240.24 L263.80,239.96 L264.20,239.72 L264.60,239.56 L265.00,239.50 L265.40,239.54 L265.80,239.67 L266.20,239.89 L266.60,240.17 L267.00,240.47 L267.40,240.76 L267.80,241.01 L268.20,241.20 L268.60,241.29 L269.00,241.28 L269.40,241.18 L269.80,240.98 L270.20,240.72 L270.60,240.42 L271.00,240.12 L271.40,239.85 L271.80,239.65 L272.20,239.53 L272.60,239.50 L273.00,239.58 L273.40,239.75 L273.80,240.00 L274.20,240.29 L274.60,240.59 L275.00,240.87 L275.40,241.10 L275.80,241.25 L276.20,241.30 L276.60,241.25 L277.00,241.10 L277.40,240.88 L277.80,240.60 L278.20,240.30 L278.60,240.01 L279.00,239.76 L279.40,239.59 L279.80,239.50 L280.20,239.52 L280.60,239.64 L281.00,239.85 L281.40,240.11 L281.80,240.41 L282.20,240.71 L282.60,240.97 L283.00,241.17 L283.40,241.28 L283.80,241.29 L284.20,241.20 L284.60,241.02 L285.00,240.77 L285.40,240.48 L285.80,240.18 L286.20,239.90 L286.60,239.68 L287.00,239.54 L287.40,239.50 L287.80,239.56 L288.20,239.72 L288.60,239.95 L289.00,240.23 L289.40,240.54 L289.80,240.82 L290.20,241.06 L290.60,241.23 L291.00,241.30 L291.40,241.27 L291.80,241.14 L292.20,240.92 L292.60,240.65 L293.00,240.35 L293.40,240.06 L293.80,239.80 L294.20,239.61 L294.60,239.51 L295.00,239.51 L295.40,239.61 L295.80,239.80 L296.20,240.06 L296.60,240.36 L297.00,240.66 L297.40,240.93 L297.80,241.14 L298.20,241.27 L298.60,241.30 L299.00,241.23 L299.40,241.06 L299.80,240.82 L300.20,240.53 L300.60,240.23 L301.00,239.95 L301.40,239.71 L301.80,239.56 L302.20,239.50 L302.60,239.54 L303.00,239.68 L303.40,239.90 L303.80,240.18 L304.20,240.48 L304.60,240.78 L305.00,241.03 L305.40,241.20 L305.80,241.29 L306.20,241.28 L306.60,241.17 L307.00,240.97 L307.40,240.70 L307.80,240.41 L308.20,240.11 L308.60,239.84 L309.00,239.64 L309.40,239.52 L309.80,239.51 L310.20,239.59 L310.60,239.76 L311.00,240.01 L311.40,240.30 L311.80,240.61 L312.20,240.88 L312.60,241.11 L313.00,241.25 L313.40,241.30 L313.80,241.25 L314.20,241.10 L314.60,240.87 L315.00,240.58 L315.40,240.28 L315.80,239.99 L316.20,239.75 L316.60,239.58 L317.00,239.50 L317.40,239.53 L317.80,239.65 L318.20,239.86 L318.60,240.13 L319.00,240.43 L319.40,240.72 L319.80,240.98 L320.20,241.18" fill="none" stroke="#3a62ff" stroke-width="1.2"/>
<path d="M24.60,278.76 L25.00,278.51 L25.40,278.24 L25.80,277.99 L26.20,277.77 L26.60,277.62 L27.00,277.55 L27.40,277.58 L27.80,277.69 L28.20,277.87 L28.60,278.11 L29.00,278.38 L29.40,278.64 L29.80,278.87 L30.20,279.04 L30.60,279.14 L31.00,279.14 L31.40,279.06 L31.80,278.89 L32.20,278.66 L32.60,278.40 L33.00,278.13 L33.40,277.89 L33.80,277.70 L34.20,277.58 L34.60,277.55 L35.00,277.61 L35.40,277.75 L35.80,277.96 L36.20,278.22 L36.60,278.49 L37.00,278.74 L37.40,278.95 L37.80,279.09 L38.20,279.15 L38.60,279.12 L39.00,279.00 L39.40,278.80 L39.80,278.56 L40.20,278.29 L40.60,278.03 L41.00,277.80 L41.40,277.64 L41.80,277.56 L42.20,277.56 L42.60,277.66 L43.00,277.83 L43.40,278.07 L43.80,278.33 L44.20,278.60 L44.60,278.83 L45.00,279.02 L45.40,279.13 L45.80,279.15 L46.20,279.08 L46.60,278.92 L47.00,278.71 L47.40,278.45 L47.80,278.18 L48.20,277.93 L48.60,277.73 L49.00,277.60 L49.40,277.55 L49.80,277.59 L50.20,277.72 L50.60,277.92 L51.00,278.17 L51.40,278.44 L51.80,278.70 L52.20,278.92 L52.60,279.07 L53.00,279.15 L53.40,279.13 L53.80,279.02 L54.20,278.84 L54.60,278.61 L55.00,278.34 L55.40,278.08 L55.80,277.84 L56.20,277.67 L56.60,277.57 L57.00,277.56 L57.40,277.64 L57.80,277.80 L58.20,278.02 L58.60,278.28 L59.00,278.55 L59.40,278.79 L59.80,278.99 L60.20,279.11 L60.60,279.15 L61.00,279.10 L61.40,278.96 L61.80,278.75 L62.20,278.50 L62.60,278.23 L63.00,277.97 L63.40,277.76 L63.80,277.61 L64.20,277.55 L64.60,277.58 L65.00,277.69 L65.40,277.88 L65.80,278.12 L66.20,278.39 L66.60,278.65 L67.00,278.88 L67.40,279.05 L67.80,279.14 L68.20,279.14 L68.60,279.05 L69.00,278.88 L69.40,278.65 L69.80,278.39 L70.20,278.12 L70.60,277.88 L71.00,277.69 L71.40,277.58 L71.80,277.55 L72.20,277.62 L72.60,277.76 L73.00,277.98 L73.40,278.23 L73.80,278.50 L74.20,278.75 L74.60,278.96 L75.00,279.10 L75.40,279.15 L75.80,279.11 L76.20,278.99 L76.60,278.79 L77.00,278.55 L77.40,278.28 L77.80,278.02 L78.20,277.80 L78.60,277.64 L79.00,277.56 L79.40,277.57 L79.80,277.67 L80.20,277.84 L80.60,278.08 L81.00,278.34 L81.40,278.61 L81.80,278.84 L82.20,279.03 L82.60,279.13 L83.00,279.15 L83.40,279.07 L83.80,278.92 L84.20,278.70 L84.60,278.44 L85.00,278.17 L85.40,277.92 L85.80,277.72 L86.20,277.59 L86.60,277.55 L87.00,277.60 L87.40,277.73 L87.80,277.93 L88.20,278.18 L88.60,278.45 L89.00,278.71 L89.40,278.93 L89.80,279.08 L90.20,279.15 L90.60,279.13 L91.00,279.02 L91.40,278.83 L91.80,278.59 L92.20,278.33 L92.60,278.06 L93.00,277.83 L93.40,277.66 L93.80,277.56 L94.20,277.56 L94.60,277.64 L95.00,277.81 L95.40,278.03 L95.80,278.29 L96.20,278.56 L96.60,278.81 L97.00,279.00 L97.40,279.12 L97.80,279.15 L98.20,279.09 L98.60,278.95 L99.00,278.74 L99.40,278.49 L99.80,278.22 L100.20,277.96 L100.60,277.75 L101.00,277.61 L101.40,277.55 L101.80,277.58 L102.20,277.70 L102.60,277.89 L103.00,278.14 L103.40,278.40 L103.80,278.67 L104.20,278.89 L104.60,279.06 L105.00,279.14 L105.40,279.14 L105.80,279.04 L106.20,278.87 L106.60,278.64 L107.00,278.38 L107.40,278.11 L107.80,277.87 L108.20,277.68 L108.60,277.57 L109.00,277.55 L109.40,277.62 L109.80,277.77 L110.20,277.99 L110.60,278.25 L111.00,278.51 L111.40,278.76 L111.80,278.97 L112.20,279.10 L112.60,279.15 L113.00,279.11 L113.40,278.98 L113.80,278.78 L114.20,278.53 L114.60,278.26 L115.00,278.01 L115.40,277.79 L115.80,277.63 L116.20,277.55 L116.60,277.57 L117.00,277.67 L117.40,277.85 L117.80,278.09 L118.20,278.36 L118.60,278.62 L119.00,278.86 L119.40,279.03 L119.80,279.13 L120.20,279.14 L120.60,279.07 L121.00,278.91 L121.40,278.68 L121.80,278.42 L122.20,278.16 L122.60,277.91 L123.00,277.71 L123.40,277.59 L123.80,277.55 L124.20,277.60 L124.60,277.74 L125.00,277.95 L125.40,278.20 L125.80,278.47 L126.20,278.72 L126.60,278.94 L127.00,279.08 L127.40,279.15 L127.80,279.12 L128.20,279.01 L128.60,278.82 L129.00,278.58 L129.40,278.31 L129.80,278.05 L130.20,277.82 L130.60,277.65 L131.00,277.56 L131.40,277.56 L131.80,277.65 L132.20,277.82 L132.60,278.04 L133.00,278.31 L133.40,278.57 L133.80,278.82 L134.20,279.01 L134.60,279.12 L135.00,279.15 L135.40,279.09 L135.80,278.94 L136.20,278.73 L136.60,278.47 L137.00,278.20 L137.40,277.95 L137.80,277.74 L138.20,277.60 L138.60,277.55 L139.00,277.59 L139.40,277.71 L139.80,277.90 L140.20,278.15 L140.60,278.42 L141.00,278.68 L141.40,278.90 L141.80,279.06 L142.20,279.14 L142.60,279.13 L143.00,279.04 L143.40,278.86 L143.80,278.63 L144.20,278.36 L144.60,278.10 L145.00,277.86 L145.40,277.68 L145.80,277.57 L146.20,277.55 L146.60,277.63 L147.00,277.78 L147.40,278.00 L147.80,278.26 L148.20,278.53 L148.60,278.78 L149.00,278.98 L149.40,279.11 L149.80,279.15 L150.20,279.10 L150.60,278.97 L151.00,278.77 L151.40,278.52 L151.80,278.25 L152.20,277.99 L152.60,277.78 L153.00,277.62 L153.40,277.55 L153.80,277.57 L154.20,277.68 L154.60,277.86 L155.00,278.10 L155.40,278.37 L155.80,278.63 L156.20,278.87 L156.60,279.04 L157.00,279.13 L157.40,279.14 L157.80,279.06 L158.20,278.90 L158.60,278.67 L159.00,278.41 L159.40,278.14 L159.80,277.90 L160.20,277.70 L160.60,277.58 L161.00,277.55 L161.40,277.61 L161.80,277.75 L162.20,277.96 L162.60,278.21 L163.00,278.48 L163.40,278.73 L163.80,278.95 L164.20,279.09 L164.60,279.15 L165.00,279.12 L165.40,279.00 L165.80,278.81 L166.20,278.57 L166.60,278.30 L167.00,278.04 L167.40,277.81 L167.80,277.65 L168.20,277.56 L168.60,277.56 L169.00,277.66 L169.40,277.83 L169.80,278.06 L170.20,278.32 L170.60,278.59 L171.00,278.83 L171.40,279.01 L171.80,279.12 L172.20,279.15 L172.60,279.08 L173.00,278.93 L173.40,278.72 L173.80,278.46 L174.20,278.19 L174.60,277.94 L175.00,277.73 L175.40,277.60 L175.80,277.55 L176.20,277.59 L176.60,277.72 L177.00,277.92 L177.40,278.16 L177.80,278.43 L178.20,278.69 L178.60,278.91 L179.00,279.07 L179.40,279.14 L179.80,279.13 L180.20,279.03 L180.60,278.85 L181.00,278.61 L181.40,278.35 L181.80,278.08 L182.20,277.85 L182.60,277.67 L183.00,277.57 L183.40,277.56 L183.80,277.63 L184.20,277.79 L184.60,278.01 L185.00,278.27 L185.40,278.54 L185.80,278.79 L186.20,278.98 L186.60,279.11 L187.00,279.15 L187.40,279.10 L187.80,278.96 L188.20,278.76 L188.60,278.51 L189.00,278.24 L189.40,277.98 L189.80,277.77 L190.20,277.62 L190.60,277.55 L191.00,277.58 L191.40,277.69 L191.80,277.88 L192.20,278.12 L192.60,278.38 L193.00,278.65 L193.40,278.88 L193.80,279.05 L194.20,279.14 L194.60,279.14 L195.00,279.05 L195.40,278.89 L195.80,278.66 L196.20,278.40 L196.60,278.13 L197.00,277.89 L197.40,277.70 L197.80,277.58 L198.20,277.55 L198.60,277.61 L199.00,277.76 L199.40,277.97 L199.80,278.22 L200.20,278.49 L200.60,278.75 L201.00,278.95 L201.40,279.09 L201.80,279.15 L202.20,279.11 L202.60,278.99 L203.00,278.80 L203.40,278.55 L203.80,278.29 L204.20,278.03 L204.60,277.80 L205.00,277.64 L205.40,277.56 L205.80,277.57 L206.20,277.66 L206.60,277.84 L207.00,278.07 L207.40,278.33 L207.80,278.60 L208.20,278.84 L208.60,279.02 L209.00,279.13 L209.40,279.15 L209.80,279.07 L210.20,278.92 L210.60,278.70 L211.00,278.45 L211.40,278.18 L211.80,277.93 L212.20,277.73 L212.60,277.60 L213.00,277.55 L213.40,277.60 L213.80,277.73 L214.20,277.93 L214.60,278.18 L215.00,278.45 L215.40,278.70 L215.80,278.92 L216.20,279.07 L216.60,279.15 L217.00,279.13 L217.40,279.02 L217.80,278.84 L218.20,278.60 L218.60,278.33 L219.00,278.07 L219.40,277.84 L219.80,277.66 L220.20,277.57 L220.60,277.56 L221.00,277.64 L221.40,277.80 L221.80,278.03 L222.20,278.29 L222.60,278.55 L223.00,278.80 L223.40,278.99 L223.80,279.11 L224.20,279.15 L224.60,279.09 L225.00,278.95 L225.40,278.75 L225.80,278.49 L226.20,278.22 L226.60,277.97 L227.00,277.76 L227.40,277.61 L227.80,277.55 L228.20,277.58 L228.60,277.70 L229.00,277.89 L229.40,278.13 L229.80,278.40 L230.20,278.66 L230.60,278.89 L231.00,279.05 L231.40,279.14 L231.80,279.14 L232.20,279.05 L232.60,278.88 L233.00,278.65 L233.40,278.38 L233.80,278.12 L234.20,277.88 L234.60,277.69 L235.00,277.58 L235.40,277.55 L235.80,277.62 L236.20,277.77 L236.60,277.98 L237.00,278.24 L237.40,278.51 L237.80,278.76 L238.20,278.96 L238.60,279.10 L239.00,279.15 L239.40,279.11 L239.80,278.98 L240.20,278.79 L240.60,278.54 L241.00,278.27 L241.40,278.01 L241.80,277.79 L242.20,277.63 L242.60,277.56 L243.00,277.57 L243.40,277.67 L243.80,277.85 L244.20,278.08 L244.60,278.35 L245.00,278.61 L245.40,278.85 L245.80,279.03 L246.20,279.13 L246.60,279.14 L247.00,279.07 L247.40,278.91 L247.80,278.69 L248.20,278.43 L248.60,278.16 L249.00,277.92 L249.40,277.72 L249.80,277.59 L250.20,277.55 L250.60,277.60 L251.00,277.73 L251.40,277.94 L251.80,278.19 L252.20,278.46 L252.60,278.72 L253.00,278.93 L253.40,279.08 L253.80,279.15 L254.20,279.12 L254.60,279.01 L255.00,278.83 L255.40,278.59 L255.80,278.32 L256.20,278.06 L256.60,277.83 L257.00,277.66 L257.40,277.56 L257.80,277.56 L258.20,277.65 L258.60,277.81 L259.00,278.04 L259.40,278.30 L259.80,278.57 L260.20,278.81 L260.60,279.00 L261.00,279.12 L261.40,279.15 L261.80,279.09 L262.20,278.95 L262.60,278.73 L263.00,278.48 L263.40,278.21 L263.80,277.96 L264.20,277.75 L264.60,277.61 L265.00,277.55 L265.40,277.58 L265.80,277.70 L266.20,277.90 L266.60,278.14 L267.00,278.41 L267.40,278.67 L267.80,278.90 L268.20,279.06 L268.60,279.14 L269.00,279.13 L269.40,279.04 L269.80,278.87 L270.20,278.63 L270.60,278.37 L271.00,278.10 L271.40,277.86 L271.80,277.68 L272.20,277.57 L272.60,277.55 L273.00,277.62 L273.40,277.78 L273.80,277.99 L274.20,278.25 L274.60,278.52 L275.00,278.77 L275.40,278.97 L275.80,279.10 L276.20,279.15 L276.60,279.11 L277.00,278.98 L277.40,278.78 L277.80,278.53 L278.20,278.26 L278.60,278.00 L279.00,277.78 L279.40,277.63 L279.80,277.55 L280.20,277.57 L280.60,277.68 L281.00,277.86 L281.40,278.10 L281.80,278.36 L282.20,278.63 L282.60,278.86 L283.00,279.04 L283.40,279.13 L283.80,279.14 L284.20,279.06 L284.60,278.90 L285.00,278.68 L285.40,278.42 L285.80,278.15 L286.20,277.90 L286.60,277.71 L287.00,277.59 L287.40,277.55 L287.80,277.60 L288.20,277.74 L288.60,277.95 L289.00,278.20 L289.40,278.47 L289.80,278.73 L290.20,278.94 L290.60,279.09 L291.00,279.15 L291.40,279.12 L291.80,279.01 L292.20,278.82 L292.60,278.57 L293.00,278.31 L293.40,278.04 L293.80,277.82 L294.20,277.65 L294.60,277.56 L295.00,277.56 L295.40,277.65 L295.80,277.82 L296.20,278.05 L296.60,278.31 L297.00,278.58 L297.40,278.82 L297.80,279.01 L298.20,279.12 L298.60,279.15 L299.00,279.08 L299.40,278.94 L299.80,278.72 L300.20,278.47 L300.60,278.20 L301.00,277.95 L301.40,277.74 L301.80,277.60 L302.20,277.55 L302.60,277.59 L303.00,277.71 L303.40,277.91 L303.80,278.16 L304.20,278.42 L304.60,278.68 L305.00,278.91 L305.40,279.07 L305.80,279.14 L306.20,279.13 L306.60,279.03 L307.00,278.86 L307.40,278.62 L307.80,278.36 L308.20,278.09 L308.60,277.85 L309.00,277.67 L309.40,277.57 L309.80,277.55 L310.20,277.63 L310.60,277.79 L311.00,278.01 L311.40,278.26 L311.80,278.53 L312.20,278.78 L312.60,278.98 L313.00,279.11 L313.40,279.15 L313.80,279.10 L314.20,278.97 L314.60,278.76 L315.00,278.51 L315.40,278.25 L315.80,277.99 L316.20,277.77 L316.60,277.62 L317.00,277.55 L317.40,277.57 L317.80,277.68 L318.20,277.87 L318.60,278.11 L319.00,278.38 L319.40,278.64 L319.80,278.87 L320.20,279.04" fill="none" stroke="#e8262a" stroke-width="1.2"/>
<path d="M24.60,286.89 L25.00,286.65 L25.40,286.40 L25.80,286.16 L26.20,285.96 L26.60,285.82 L27.00,285.75 L27.40,285.77 L27.80,285.88 L28.20,286.05 L28.60,286.28 L29.00,286.53 L29.40,286.77 L29.80,286.99 L30.20,287.15 L30.60,287.24 L31.00,287.24 L31.40,287.16 L31.80,287.01 L32.20,286.79 L32.60,286.55 L33.00,286.30 L33.40,286.07 L33.80,285.89 L34.20,285.78 L34.60,285.75 L35.00,285.81 L35.40,285.94 L35.80,286.14 L36.20,286.38 L36.60,286.63 L37.00,286.87 L37.40,287.06 L37.80,287.20 L38.20,287.25 L38.60,287.22 L39.00,287.11 L39.40,286.93 L39.80,286.70 L40.20,286.44 L40.60,286.20 L41.00,285.99 L41.40,285.84 L41.80,285.76 L42.20,285.76 L42.60,285.85 L43.00,286.02 L43.40,286.23 L43.80,286.48 L44.20,286.73 L44.60,286.95 L45.00,287.13 L45.40,287.23 L45.80,287.25 L46.20,287.18 L46.60,287.04 L47.00,286.84 L47.40,286.59 L47.80,286.34 L48.20,286.11 L48.60,285.92 L49.00,285.79 L49.40,285.75 L49.80,285.79 L50.20,285.91 L50.60,286.10 L51.00,286.33 L51.40,286.58 L51.80,286.83 L52.20,287.03 L52.60,287.18 L53.00,287.25 L53.40,287.23 L53.80,287.13 L54.20,286.96 L54.60,286.74 L55.00,286.49 L55.40,286.24 L55.80,286.02 L56.20,285.86 L56.60,285.77 L57.00,285.76 L57.40,285.83 L57.80,285.98 L58.20,286.19 L58.60,286.43 L59.00,286.69 L59.40,286.92 L59.80,287.10 L60.20,287.22 L60.60,287.25 L61.00,287.20 L61.40,287.07 L61.80,286.88 L62.20,286.64 L62.60,286.39 L63.00,286.15 L63.40,285.95 L63.80,285.81 L64.20,285.75 L64.60,285.78 L65.00,285.88 L65.40,286.06 L65.80,286.29 L66.20,286.54 L66.60,286.78 L67.00,287.00 L67.40,287.16 L67.80,287.24 L68.20,287.24 L68.60,287.16 L69.00,287.00 L69.40,286.78 L69.80,286.54 L70.20,286.29 L70.60,286.06 L71.00,285.88 L71.40,285.78 L71.80,285.75 L72.20,285.81 L72.60,285.95 L73.00,286.15 L73.40,286.39 L73.80,286.64 L74.20,286.88 L74.60,287.07 L75.00,287.20 L75.40,287.25 L75.80,287.21 L76.20,287.10 L76.60,286.91 L77.00,286.68 L77.40,286.43 L77.80,286.19 L78.20,285.98 L78.60,285.83 L79.00,285.76 L79.40,285.77 L79.80,285.86 L80.20,286.03 L80.60,286.24 L81.00,286.49 L81.40,286.74 L81.80,286.96 L82.20,287.13 L82.60,287.23 L83.00,287.25 L83.40,287.18 L83.80,287.03 L84.20,286.82 L84.60,286.58 L85.00,286.33 L85.40,286.10 L85.80,285.91 L86.20,285.79 L86.60,285.75 L87.00,285.79 L87.40,285.92 L87.80,286.11 L88.20,286.34 L88.60,286.60 L89.00,286.84 L89.40,287.04 L89.80,287.18 L90.20,287.25 L90.60,287.23 L91.00,287.12 L91.40,286.95 L91.80,286.73 L92.20,286.48 L92.60,286.23 L93.00,286.01 L93.40,285.85 L93.80,285.76 L94.20,285.76 L94.60,285.84 L95.00,285.99 L95.40,286.20 L95.80,286.45 L96.20,286.70 L96.60,286.93 L97.00,287.11 L97.40,287.22 L97.80,287.25 L98.20,287.19 L98.60,287.06 L99.00,286.86 L99.40,286.63 L99.80,286.37 L100.20,286.14 L100.60,285.94 L101.00,285.81 L101.40,285.75 L101.80,285.78 L102.20,285.89 L102.60,286.07 L103.00,286.30 L103.40,286.55 L103.80,286.80 L104.20,287.01 L104.60,287.16 L105.00,287.24 L105.40,287.24 L105.80,287.15 L106.20,286.99 L106.60,286.77 L107.00,286.52 L107.40,286.27 L107.80,286.05 L108.20,285.88 L108.60,285.77 L109.00,285.75 L109.40,285.82 L109.80,285.96 L110.20,286.16 L110.60,286.40 L111.00,286.65 L111.40,286.89 L111.80,287.08 L112.20,287.20 L112.60,287.25 L113.00,287.21 L113.40,287.09 L113.80,286.90 L114.20,286.67 L114.60,286.42 L115.00,286.18 L115.40,285.97 L115.80,285.82 L116.20,285.75 L116.60,285.77 L117.00,285.87 L117.40,286.04 L117.80,286.26 L118.20,286.51 L118.60,286.75 L119.00,286.97 L119.40,287.14 L119.80,287.23 L120.20,287.24 L120.60,287.17 L121.00,287.02 L121.40,286.81 L121.80,286.57 L122.20,286.32 L122.60,286.09 L123.00,285.90 L123.40,285.79 L123.80,285.75 L124.20,285.80 L124.60,285.93 L125.00,286.12 L125.40,286.36 L125.80,286.61 L126.20,286.85 L126.60,287.05 L127.00,287.19 L127.40,287.25 L127.80,287.22 L128.20,287.12 L128.60,286.94 L129.00,286.72 L129.40,286.47 L129.80,286.22 L130.20,286.00 L130.60,285.85 L131.00,285.76 L131.40,285.76 L131.80,285.84 L132.20,286.00 L132.60,286.21 L133.00,286.46 L133.40,286.71 L133.80,286.94 L134.20,287.11 L134.60,287.22 L135.00,287.25 L135.40,287.19 L135.80,287.05 L136.20,286.85 L136.60,286.61 L137.00,286.36 L137.40,286.13 L137.80,285.93 L138.20,285.80 L138.60,285.75 L139.00,285.78 L139.40,285.90 L139.80,286.08 L140.20,286.31 L140.60,286.56 L141.00,286.81 L141.40,287.02 L141.80,287.17 L142.20,287.24 L142.60,287.23 L143.00,287.14 L143.40,286.98 L143.80,286.76 L144.20,286.51 L144.60,286.26 L145.00,286.04 L145.40,285.87 L145.80,285.77 L146.20,285.75 L146.60,285.82 L147.00,285.97 L147.40,286.17 L147.80,286.41 L148.20,286.67 L148.60,286.90 L149.00,287.09 L149.40,287.21 L149.80,287.25 L150.20,287.21 L150.60,287.08 L151.00,286.89 L151.40,286.66 L151.80,286.41 L152.20,286.17 L152.60,285.96 L153.00,285.82 L153.40,285.75 L153.80,285.77 L154.20,285.87 L154.60,286.05 L155.00,286.27 L155.40,286.52 L155.80,286.77 L156.20,286.98 L156.60,287.15 L157.00,287.24 L157.40,287.24 L157.80,287.16 L158.20,287.01 L158.60,286.80 L159.00,286.56 L159.40,286.31 L159.80,286.08 L160.20,285.89 L160.60,285.78 L161.00,285.75 L161.40,285.80 L161.80,285.94 L162.20,286.13 L162.60,286.37 L163.00,286.62 L163.40,286.86 L163.80,287.06 L164.20,287.19 L164.60,287.25 L165.00,287.22 L165.40,287.11 L165.80,286.93 L166.20,286.70 L166.60,286.45 L167.00,286.21 L167.40,285.99 L167.80,285.84 L168.20,285.76 L168.60,285.76 L169.00,285.85 L169.40,286.01 L169.80,286.23 L170.20,286.47 L170.60,286.72 L171.00,286.95 L171.40,287.12 L171.80,287.23 L172.20,287.25 L172.60,287.18 L173.00,287.04 L173.40,286.84 L173.80,286.60 L174.20,286.35 L174.60,286.11 L175.00,285.92 L175.40,285.80 L175.80,285.75 L176.20,285.79 L176.60,285.91 L177.00,286.09 L177.40,286.32 L177.80,286.58 L178.20,286.82 L178.60,287.03 L179.00,287.17 L179.40,287.24 L179.80,287.23 L180.20,287.14 L180.60,286.97 L181.00,286.75 L181.40,286.50 L181.80,286.25 L182.20,286.03 L182.60,285.86 L183.00,285.77 L183.40,285.76 L183.80,285.83 L184.20,285.98 L184.60,286.18 L185.00,286.43 L185.40,286.68 L185.80,286.91 L186.20,287.10 L186.60,287.21 L187.00,287.25 L187.40,287.20 L187.80,287.07 L188.20,286.88 L188.60,286.65 L189.00,286.39 L189.40,286.15 L189.80,285.95 L190.20,285.81 L190.60,285.75 L191.00,285.78 L191.40,285.88 L191.80,286.06 L192.20,286.28 L192.60,286.53 L193.00,286.78 L193.40,286.99 L193.80,287.15 L194.20,287.24 L194.60,287.24 L195.00,287.16 L195.40,287.00 L195.80,286.79 L196.20,286.54 L196.60,286.29 L197.00,286.07 L197.40,285.89 L197.80,285.78 L198.20,285.75 L198.60,285.81 L199.00,285.94 L199.40,286.14 L199.80,286.38 L200.20,286.63 L200.60,286.87 L201.00,287.07 L201.40,287.20 L201.80,287.25 L202.20,287.22 L202.60,287.10 L203.00,286.92 L203.40,286.69 L203.80,286.44 L204.20,286.20 L204.60,285.99 L205.00,285.83 L205.40,285.76 L205.80,285.76 L206.20,285.86 L206.60,286.02 L207.00,286.24 L207.40,286.49 L207.80,286.73 L208.20,286.96 L208.60,287.13 L209.00,287.23 L209.40,287.25 L209.80,287.18 L210.20,287.04 L210.60,286.83 L211.00,286.59 L211.40,286.34 L211.80,286.10 L212.20,285.91 L212.60,285.79 L213.00,285.75 L213.40,285.79 L213.80,285.91 L214.20,286.10 L214.60,286.34 L215.00,286.59 L215.40,286.83 L215.80,287.04 L216.20,287.18 L216.60,287.25 L217.00,287.23 L217.40,287.13 L217.80,286.96 L218.20,286.73 L218.60,286.49 L219.00,286.24 L219.40,286.02 L219.80,285.86 L220.20,285.76 L220.60,285.76 L221.00,285.83 L221.40,285.99 L221.80,286.20 L222.20,286.44 L222.60,286.69 L223.00,286.92 L223.40,287.10 L223.80,287.22 L224.20,287.25 L224.60,287.20 L225.00,287.07 L225.40,286.87 L225.80,286.63 L226.20,286.38 L226.60,286.14 L227.00,285.94 L227.40,285.81 L227.80,285.75 L228.20,285.78 L228.60,285.89 L229.00,286.07 L229.40,286.29 L229.80,286.54 L230.20,286.79 L230.60,287.00 L231.00,287.16 L231.40,287.24 L231.80,287.24 L232.20,287.15 L232.60,286.99 L233.00,286.78 L233.40,286.53 L233.80,286.28 L234.20,286.06 L234.60,285.88 L235.00,285.78 L235.40,285.75 L235.80,285.81 L236.20,285.95 L236.60,286.15 L237.00,286.39 L237.40,286.65 L237.80,286.88 L238.20,287.07 L238.60,287.20 L239.00,287.25 L239.40,287.21 L239.80,287.10 L240.20,286.91 L240.60,286.68 L241.00,286.43 L241.40,286.18 L241.80,285.98 L242.20,285.83 L242.60,285.76 L243.00,285.77 L243.40,285.86 L243.80,286.03 L244.20,286.25 L244.60,286.50 L245.00,286.75 L245.40,286.97 L245.80,287.14 L246.20,287.23 L246.60,287.24 L247.00,287.17 L247.40,287.03 L247.80,286.82 L248.20,286.58 L248.60,286.32 L249.00,286.09 L249.40,285.91 L249.80,285.79 L250.20,285.75 L250.60,285.80 L251.00,285.92 L251.40,286.11 L251.80,286.35 L252.20,286.60 L252.60,286.84 L253.00,287.04 L253.40,287.18 L253.80,287.25 L254.20,287.23 L254.60,287.12 L255.00,286.95 L255.40,286.72 L255.80,286.47 L256.20,286.23 L256.60,286.01 L257.00,285.85 L257.40,285.76 L257.80,285.76 L258.20,285.84 L258.60,285.99 L259.00,286.21 L259.40,286.45 L259.80,286.70 L260.20,286.93 L260.60,287.11 L261.00,287.22 L261.40,287.25 L261.80,287.19 L262.20,287.06 L262.60,286.86 L263.00,286.62 L263.40,286.37 L263.80,286.13 L264.20,285.94 L264.60,285.80 L265.00,285.75 L265.40,285.78 L265.80,285.89 L266.20,286.08 L266.60,286.31 L267.00,286.56 L267.40,286.80 L267.80,287.01 L268.20,287.16 L268.60,287.24 L269.00,287.24 L269.40,287.15 L269.80,286.98 L270.20,286.77 L270.60,286.52 L271.00,286.27 L271.40,286.05 L271.80,285.87 L272.20,285.77 L272.60,285.75 L273.00,285.82 L273.40,285.96 L273.80,286.17 L274.20,286.41 L274.60,286.66 L275.00,286.89 L275.40,287.08 L275.80,287.21 L276.20,287.25 L276.60,287.21 L277.00,287.09 L277.40,286.90 L277.80,286.67 L278.20,286.41 L278.60,286.17 L279.00,285.97 L279.40,285.82 L279.80,285.75 L280.20,285.77 L280.60,285.87 L281.00,286.04 L281.40,286.26 L281.80,286.51 L282.20,286.76 L282.60,286.98 L283.00,287.14 L283.40,287.23 L283.80,287.24 L284.20,287.17 L284.60,287.02 L285.00,286.81 L285.40,286.56 L285.80,286.31 L286.20,286.08 L286.60,285.90 L287.00,285.78 L287.40,285.75 L287.80,285.80 L288.20,285.93 L288.60,286.13 L289.00,286.36 L289.40,286.61 L289.80,286.85 L290.20,287.05 L290.60,287.19 L291.00,287.25 L291.40,287.22 L291.80,287.11 L292.20,286.94 L292.60,286.71 L293.00,286.46 L293.40,286.21 L293.80,286.00 L294.20,285.84 L294.60,285.76 L295.00,285.76 L295.40,285.85 L295.80,286.00 L296.20,286.22 L296.60,286.47 L297.00,286.72 L297.40,286.94 L297.80,287.12 L298.20,287.22 L298.60,287.25 L299.00,287.19 L299.40,287.05 L299.80,286.85 L300.20,286.61 L300.60,286.36 L301.00,286.12 L301.40,285.93 L301.80,285.80 L302.20,285.75 L302.60,285.79 L303.00,285.90 L303.40,286.09 L303.80,286.32 L304.20,286.57 L304.60,286.81 L305.00,287.02 L305.40,287.17 L305.80,287.24 L306.20,287.23 L306.60,287.14 L307.00,286.97 L307.40,286.75 L307.80,286.51 L308.20,286.26 L308.60,286.04 L309.00,285.87 L309.40,285.77 L309.80,285.75 L310.20,285.82 L310.60,285.97 L311.00,286.18 L311.40,286.42 L311.80,286.67 L312.20,286.90 L312.60,287.09 L313.00,287.21 L313.40,287.25 L313.80,287.20 L314.20,287.08 L314.60,286.89 L315.00,286.65 L315.40,286.40 L315.80,286.16 L316.20,285.96 L316.60,285.82 L317.00,285.75 L317.40,285.77 L317.80,285.88 L318.20,286.05 L318.60,286.27 L319.00,286.52 L319.40,286.77 L319.80,286.99 L320.20,287.15" fill="none" stroke="#333" stroke-width="1.2"/>
<path d="M320.4,210.5 L24.6,210.5 L24.6,333.2 L320.4,333.2" fill="none" stroke="#555555" stroke-width="1.2"/>
<line x1="320.4" y1="209.9" x2="320.4" y2="333.8" stroke="#5aa83c" stroke-width="1.2"/>
<text x="21.9" y="213.8" font-size="9.3" text-anchor="end" font-weight="normal" fill="#262626">15</text>
<text x="21.9" y="254.7" font-size="9.3" text-anchor="end" font-weight="normal" fill="#262626">10</text>
<text x="21.9" y="295.4" font-size="9.3" text-anchor="end" font-weight="normal" fill="#262626">5</text>
<text x="21.9" y="336.1" font-size="9.3" text-anchor="end" font-weight="normal" fill="#262626">0</text>
<text x="24.6" y="344.2" font-size="9.3" text-anchor="middle" font-weight="normal" fill="#262626">9</text>
<text x="61.57" y="344.2" font-size="9.3" text-anchor="middle" font-weight="normal" fill="#262626">9.1</text>
<text x="98.53999999999999" y="344.2" font-size="9.3" text-anchor="middle" font-weight="normal" fill="#262626">9.2</text>
<text x="135.51" y="344.2" font-size="9.3" text-anchor="middle" font-weight="normal" fill="#262626">9.3</text>
<text x="172.48" y="344.2" font-size="9.3" text-anchor="middle" font-weight="normal" fill="#262626">9.4</text>
<text x="209.45" y="344.2" font-size="9.3" text-anchor="middle" font-weight="normal" fill="#262626">9.5</text>
<text x="246.42" y="344.2" font-size="9.3" text-anchor="middle" font-weight="normal" fill="#262626">9.6</text>
<text x="283.39" y="344.2" font-size="9.3" text-anchor="middle" font-weight="normal" fill="#262626">9.7</text>
<text x="320.36" y="344.2" font-size="9.3" text-anchor="middle" font-weight="normal" fill="#262626">9.8</text>
<text x="323.0" y="213.8" font-size="9.3" text-anchor="start" font-weight="normal" fill="#5aa83c">1.5</text>
<text x="323.0" y="234.25" font-size="9.3" text-anchor="start" font-weight="normal" fill="#5aa83c">1</text>
<text x="323.0" y="254.70000000000002" font-size="9.3" text-anchor="start" font-weight="normal" fill="#5aa83c">0.5</text>
<text x="323.0" y="275.15000000000003" font-size="9.3" text-anchor="start" font-weight="normal" fill="#5aa83c">0</text>
<text x="323.0" y="295.6" font-size="9.3" text-anchor="start" font-weight="normal" fill="#5aa83c">-0.5</text>
<text x="323.0" y="316.05" font-size="9.3" text-anchor="start" font-weight="normal" fill="#5aa83c">-1</text>
<text x="323.0" y="336.5" font-size="9.3" text-anchor="start" font-weight="normal" fill="#5aa83c">-1.5</text>
<text x="300.6" y="355.0" font-size="9.0" text-anchor="start" font-weight="normal" fill="#262626">×10</text>
<text x="315.5" y="351.7" font-size="7" text-anchor="start" font-weight="normal" fill="#262626">4</text>
<text x="133.2" y="355.0" font-size="10" text-anchor="start" font-weight="normal" fill="#262626" textLength="78.8" lengthAdjust="spacingAndGlyphs">Time (Roundtrips)</text>
<text transform="translate(8.6,316.2) rotate(-90)" font-size="10.6" text-anchor="start" font-weight="normal" fill="#262626" textLength="89.0" lengthAdjust="spacingAndGlyphs">Output power (a.u.)</text>
<text transform="translate(349.3,335.3) rotate(-90)" font-size="10.6" text-anchor="start" font-weight="normal" fill="#5aa83c" textLength="129.0" lengthAdjust="spacingAndGlyphs">Normalized phase difference</text>
<text x="27.5" y="200.2" font-size="20" text-anchor="start" font-weight="bold" fill="#000" textLength="11.7" lengthAdjust="spacingAndGlyphs">c</text>
<rect x="79.4" y="188.3" width="185" height="14" fill="#fff" stroke="#444" stroke-width="1"/>
<line x1="80.9" y1="195.4" x2="91.8" y2="195.4" stroke="#444" stroke-width="1.0"/>
<line x1="80.5" y1="188.8" x2="80.5" y2="201.8" stroke="#aaa" stroke-width="1"/>
<line x1="102.7" y1="195.4" x2="112.7" y2="195.4" stroke="#e8262a" stroke-width="1.2"/>
<line x1="135.6" y1="195.4" x2="146.1" y2="195.4" stroke="#3a62ff" stroke-width="1.2"/>
<line x1="178" y1="195.4" x2="188.2" y2="195.4" stroke="#8fcf7a" stroke-width="1" stroke-dasharray="2 1.6"/>
<text x="93.8" y="198.6" font-size="10.4" fill="#262626">I<tspan font-size="7" dy="1.6">x</tspan></text>
<text x="115.5" y="198.6" font-size="10.4" fill="#262626">I<tspan font-size="7" dy="1.6">y</tspan><tspan dy="-1.6" textLength="9.6" lengthAdjust="spacingAndGlyphs">+1</tspan></text>
<text x="148.5" y="198.6" font-size="10.4" fill="#262626">I=I<tspan font-size="7" dy="1.6">x</tspan><tspan dy="-1.6">+I</tspan><tspan font-size="7" dy="1.6">y</tspan></text>
<text x="189.7" y="198.8" font-size="10.4" text-anchor="start" font-weight="normal" fill="#262626" textLength="73" lengthAdjust="spacingAndGlyphs">Phase difference</text>
<line x1="403.68" y1="193.3" x2="403.68" y2="334.5" stroke="#eeeeee" stroke-width="0.8"/>
<line x1="416.71" y1="193.3" x2="416.71" y2="334.5" stroke="#eeeeee" stroke-width="0.8"/>
<line x1="425.95" y1="193.3" x2="425.95" y2="334.5" stroke="#eeeeee" stroke-width="0.8"/>
<line x1="433.12" y1="193.3" x2="433.12" y2="334.5" stroke="#eeeeee" stroke-width="0.8"/>
<line x1="438.98" y1="193.3" x2="438.98" y2="334.5" stroke="#eeeeee" stroke-width="0.8"/>
<line x1="443.94" y1="193.3" x2="443.94" y2="334.5" stroke="#eeeeee" stroke-width="0.8"/>
<line x1="448.23" y1="193.3" x2="448.23" y2="334.5" stroke="#eeeeee" stroke-width="0.8"/>
<line x1="452.01" y1="193.3" x2="452.01" y2="334.5" stroke="#eeeeee" stroke-width="0.8"/>
<line x1="455.40" y1="193.3" x2="455.40" y2="334.5" stroke="#eeeeee" stroke-width="0.8"/>
<line x1="477.68" y1="193.3" x2="477.68" y2="334.5" stroke="#eeeeee" stroke-width="0.8"/>
<line x1="490.71" y1="193.3" x2="490.71" y2="334.5" stroke="#eeeeee" stroke-width="0.8"/>
<line x1="499.95" y1="193.3" x2="499.95" y2="334.5" stroke="#eeeeee" stroke-width="0.8"/>
<line x1="507.12" y1="193.3" x2="507.12" y2="334.5" stroke="#eeeeee" stroke-width="0.8"/>
<line x1="512.98" y1="193.3" x2="512.98" y2="334.5" stroke="#eeeeee" stroke-width="0.8"/>
<line x1="517.94" y1="193.3" x2="517.94" y2="334.5" stroke="#eeeeee" stroke-width="0.8"/>
<line x1="522.23" y1="193.3" x2="522.23" y2="334.5" stroke="#eeeeee" stroke-width="0.8"/>
<line x1="526.01" y1="193.3" x2="526.01" y2="334.5" stroke="#eeeeee" stroke-width="0.8"/>
<line x1="529.40" y1="193.3" x2="529.40" y2="334.5" stroke="#eeeeee" stroke-width="0.8"/>
<line x1="551.68" y1="193.3" x2="551.68" y2="334.5" stroke="#eeeeee" stroke-width="0.8"/>
<line x1="564.71" y1="193.3" x2="564.71" y2="334.5" stroke="#eeeeee" stroke-width="0.8"/>
<line x1="573.95" y1="193.3" x2="573.95" y2="334.5" stroke="#eeeeee" stroke-width="0.8"/>
<line x1="581.12" y1="193.3" x2="581.12" y2="334.5" stroke="#eeeeee" stroke-width="0.8"/>
<line x1="586.98" y1="193.3" x2="586.98" y2="334.5" stroke="#eeeeee" stroke-width="0.8"/>
<line x1="591.94" y1="193.3" x2="591.94" y2="334.5" stroke="#eeeeee" stroke-width="0.8"/>
<line x1="596.23" y1="193.3" x2="596.23" y2="334.5" stroke="#eeeeee" stroke-width="0.8"/>
<line x1="600.01" y1="193.3" x2="600.01" y2="334.5" stroke="#eeeeee" stroke-width="0.8"/>
<line x1="603.40" y1="193.3" x2="603.40" y2="334.5" stroke="#eeeeee" stroke-width="0.8"/>
<line x1="625.68" y1="193.3" x2="625.68" y2="334.5" stroke="#eeeeee" stroke-width="0.8"/>
<line x1="638.71" y1="193.3" x2="638.71" y2="334.5" stroke="#eeeeee" stroke-width="0.8"/>
<line x1="647.95" y1="193.3" x2="647.95" y2="334.5" stroke="#eeeeee" stroke-width="0.8"/>
<line x1="655.12" y1="193.3" x2="655.12" y2="334.5" stroke="#eeeeee" stroke-width="0.8"/>
<line x1="660.98" y1="193.3" x2="660.98" y2="334.5" stroke="#eeeeee" stroke-width="0.8"/>
<line x1="665.94" y1="193.3" x2="665.94" y2="334.5" stroke="#eeeeee" stroke-width="0.8"/>
<line x1="670.23" y1="193.3" x2="670.23" y2="334.5" stroke="#eeeeee" stroke-width="0.8"/>
<line x1="674.01" y1="193.3" x2="674.01" y2="334.5" stroke="#eeeeee" stroke-width="0.8"/>
<line x1="403.5" y1="193.3" x2="403.5" y2="195.20000000000002" stroke="#555555" stroke-width="0.9"/>
<line x1="403.5" y1="334.5" x2="403.5" y2="332.6" stroke="#555555" stroke-width="0.9"/>
<line x1="416.5" y1="193.3" x2="416.5" y2="195.20000000000002" stroke="#555555" stroke-width="0.9"/>
<line x1="416.5" y1="334.5" x2="416.5" y2="332.6" stroke="#555555" stroke-width="0.9"/>
<line x1="425.5" y1="193.3" x2="425.5" y2="195.20000000000002" stroke="#555555" stroke-width="0.9"/>
<line x1="425.5" y1="334.5" x2="425.5" y2="332.6" stroke="#555555" stroke-width="0.9"/>
<line x1="433.5" y1="193.3" x2="433.5" y2="195.20000000000002" stroke="#555555" stroke-width="0.9"/>
<line x1="433.5" y1="334.5" x2="433.5" y2="332.6" stroke="#555555" stroke-width="0.9"/>
<line x1="438.5" y1="193.3" x2="438.5" y2="195.20000000000002" stroke="#555555" stroke-width="0.9"/>
<line x1="438.5" y1="334.5" x2="438.5" y2="332.6" stroke="#555555" stroke-width="0.9"/>
<line x1="443.5" y1="193.3" x2="443.5" y2="195.20000000000002" stroke="#555555" stroke-width="0.9"/>
<line x1="443.5" y1="334.5" x2="443.5" y2="332.6" stroke="#555555" stroke-width="0.9"/>
<line x1="448.5" y1="193.3" x2="448.5" y2="195.20000000000002" stroke="#555555" stroke-width="0.9"/>
<line x1="448.5" y1="334.5" x2="448.5" y2="332.6" stroke="#555555" stroke-width="0.9"/>
<line x1="452.5" y1="193.3" x2="452.5" y2="195.20000000000002" stroke="#555555" stroke-width="0.9"/>
<line x1="452.5" y1="334.5" x2="452.5" y2="332.6" stroke="#555555" stroke-width="0.9"/>
<line x1="455.5" y1="193.3" x2="455.5" y2="196.5" stroke="#555555" stroke-width="0.9"/>
<line x1="455.5" y1="334.5" x2="455.5" y2="331.3" stroke="#555555" stroke-width="0.9"/>
<line x1="477.5" y1="193.3" x2="477.5" y2="195.20000000000002" stroke="#555555" stroke-width="0.9"/>
<line x1="477.5" y1="334.5" x2="477.5" y2="332.6" stroke="#555555" stroke-width="0.9"/>
<line x1="490.5" y1="193.3" x2="490.5" y2="195.20000000000002" stroke="#555555" stroke-width="0.9"/>
<line x1="490.5" y1="334.5" x2="490.5" y2="332.6" stroke="#555555" stroke-width="0.9"/>
<line x1="499.5" y1="193.3" x2="499.5" y2="195.20000000000002" stroke="#555555" stroke-width="0.9"/>
<line x1="499.5" y1="334.5" x2="499.5" y2="332.6" stroke="#555555" stroke-width="0.9"/>
<line x1="507.5" y1="193.3" x2="507.5" y2="195.20000000000002" stroke="#555555" stroke-width="0.9"/>
<line x1="507.5" y1="334.5" x2="507.5" y2="332.6" stroke="#555555" stroke-width="0.9"/>
<line x1="512.5" y1="193.3" x2="512.5" y2="195.20000000000002" stroke="#555555" stroke-width="0.9"/>
<line x1="512.5" y1="334.5" x2="512.5" y2="332.6" stroke="#555555" stroke-width="0.9"/>
<line x1="517.5" y1="193.3" x2="517.5" y2="195.20000000000002" stroke="#555555" stroke-width="0.9"/>
<line x1="517.5" y1="334.5" x2="517.5" y2="332.6" stroke="#555555" stroke-width="0.9"/>
<line x1="522.5" y1="193.3" x2="522.5" y2="195.20000000000002" stroke="#555555" stroke-width="0.9"/>
<line x1="522.5" y1="334.5" x2="522.5" y2="332.6" stroke="#555555" stroke-width="0.9"/>
<line x1="526.5" y1="193.3" x2="526.5" y2="195.20000000000002" stroke="#555555" stroke-width="0.9"/>
<line x1="526.5" y1="334.5" x2="526.5" y2="332.6" stroke="#555555" stroke-width="0.9"/>
<line x1="529.5" y1="193.3" x2="529.5" y2="196.5" stroke="#555555" stroke-width="0.9"/>
<line x1="529.5" y1="334.5" x2="529.5" y2="331.3" stroke="#555555" stroke-width="0.9"/>
<line x1="551.5" y1="193.3" x2="551.5" y2="195.20000000000002" stroke="#555555" stroke-width="0.9"/>
<line x1="551.5" y1="334.5" x2="551.5" y2="332.6" stroke="#555555" stroke-width="0.9"/>
<line x1="564.5" y1="193.3" x2="564.5" y2="195.20000000000002" stroke="#555555" stroke-width="0.9"/>
<line x1="564.5" y1="334.5" x2="564.5" y2="332.6" stroke="#555555" stroke-width="0.9"/>
<line x1="573.5" y1="193.3" x2="573.5" y2="195.20000000000002" stroke="#555555" stroke-width="0.9"/>
<line x1="573.5" y1="334.5" x2="573.5" y2="332.6" stroke="#555555" stroke-width="0.9"/>
<line x1="581.5" y1="193.3" x2="581.5" y2="195.20000000000002" stroke="#555555" stroke-width="0.9"/>
<line x1="581.5" y1="334.5" x2="581.5" y2="332.6" stroke="#555555" stroke-width="0.9"/>
<line x1="586.5" y1="193.3" x2="586.5" y2="195.20000000000002" stroke="#555555" stroke-width="0.9"/>
<line x1="586.5" y1="334.5" x2="586.5" y2="332.6" stroke="#555555" stroke-width="0.9"/>
<line x1="591.5" y1="193.3" x2="591.5" y2="195.20000000000002" stroke="#555555" stroke-width="0.9"/>
<line x1="591.5" y1="334.5" x2="591.5" y2="332.6" stroke="#555555" stroke-width="0.9"/>
<line x1="596.5" y1="193.3" x2="596.5" y2="195.20000000000002" stroke="#555555" stroke-width="0.9"/>
<line x1="596.5" y1="334.5" x2="596.5" y2="332.6" stroke="#555555" stroke-width="0.9"/>
<line x1="600.5" y1="193.3" x2="600.5" y2="195.20000000000002" stroke="#555555" stroke-width="0.9"/>
<line x1="600.5" y1="334.5" x2="600.5" y2="332.6" stroke="#555555" stroke-width="0.9"/>
<line x1="603.5" y1="193.3" x2="603.5" y2="196.5" stroke="#555555" stroke-width="0.9"/>
<line x1="603.5" y1="334.5" x2="603.5" y2="331.3" stroke="#555555" stroke-width="0.9"/>
<line x1="625.5" y1="193.3" x2="625.5" y2="195.20000000000002" stroke="#555555" stroke-width="0.9"/>
<line x1="625.5" y1="334.5" x2="625.5" y2="332.6" stroke="#555555" stroke-width="0.9"/>
<line x1="638.5" y1="193.3" x2="638.5" y2="195.20000000000002" stroke="#555555" stroke-width="0.9"/>
<line x1="638.5" y1="334.5" x2="638.5" y2="332.6" stroke="#555555" stroke-width="0.9"/>
<line x1="647.5" y1="193.3" x2="647.5" y2="195.20000000000002" stroke="#555555" stroke-width="0.9"/>
<line x1="647.5" y1="334.5" x2="647.5" y2="332.6" stroke="#555555" stroke-width="0.9"/>
<line x1="655.5" y1="193.3" x2="655.5" y2="195.20000000000002" stroke="#555555" stroke-width="0.9"/>
<line x1="655.5" y1="334.5" x2="655.5" y2="332.6" stroke="#555555" stroke-width="0.9"/>
<line x1="660.5" y1="193.3" x2="660.5" y2="195.20000000000002" stroke="#555555" stroke-width="0.9"/>
<line x1="660.5" y1="334.5" x2="660.5" y2="332.6" stroke="#555555" stroke-width="0.9"/>
<line x1="665.5" y1="193.3" x2="665.5" y2="195.20000000000002" stroke="#555555" stroke-width="0.9"/>
<line x1="665.5" y1="334.5" x2="665.5" y2="332.6" stroke="#555555" stroke-width="0.9"/>
<line x1="670.5" y1="193.3" x2="670.5" y2="195.20000000000002" stroke="#555555" stroke-width="0.9"/>
<line x1="670.5" y1="334.5" x2="670.5" y2="332.6" stroke="#555555" stroke-width="0.9"/>
<line x1="674.5" y1="193.3" x2="674.5" y2="195.20000000000002" stroke="#555555" stroke-width="0.9"/>
<line x1="674.5" y1="334.5" x2="674.5" y2="332.6" stroke="#555555" stroke-width="0.9"/>
<line x1="381.4" y1="306.5" x2="384.9" y2="306.5" stroke="#555555" stroke-width="1"/>
<line x1="677.4" y1="306.5" x2="674.0" y2="306.5" stroke="#555555" stroke-width="1"/>
<line x1="381.4" y1="278.5" x2="384.9" y2="278.5" stroke="#555555" stroke-width="1"/>
<line x1="677.4" y1="278.5" x2="674.0" y2="278.5" stroke="#555555" stroke-width="1"/>
<line x1="381.4" y1="249.5" x2="384.9" y2="249.5" stroke="#555555" stroke-width="1"/>
<line x1="677.4" y1="249.5" x2="674.0" y2="249.5" stroke="#555555" stroke-width="1"/>
<line x1="381.4" y1="221.5" x2="384.9" y2="221.5" stroke="#555555" stroke-width="1"/>
<line x1="677.4" y1="221.5" x2="674.0" y2="221.5" stroke="#555555" stroke-width="1"/>
<path d="M402.40,324.20 L410.00,325.60 L421.30,327.40 L435.00,329.30 L447.50,330.80 L460.00,332.30 L473.80,333.10 L487.00,333.60 L500.00,333.90 L530.00,334.00 L552.60,333.70 L560.00,333.20 L565.00,331.90 L568.30,330.10 L570.10,328.40 L573.30,323.30 L574.90,315.40 L575.80,306.50 L576.50,296.30 L577.10,270.00 L577.60,193.40 L578.50,193.40 L578.80,290.00 L578.90,315.40 L579.30,320.80 L579.80,321.80 L580.40,314.10 L580.70,314.60 L581.00,323.30 L582.80,327.80 L586.60,330.30 L591.70,331.20 L594.50,330.70 L596.10,329.70 L598.60,324.60 L599.50,315.00 L600.10,310.00 L600.60,315.00 L601.10,328.40 L602.00,333.40 L604.00,334.00 L610.00,333.90 L611.70,333.20 L612.50,328.90 L613.10,328.60 L613.80,333.20 L616.00,334.00 L640.00,334.20 L677.00,334.30" fill="none" stroke="#ff2020" stroke-width="1.3" stroke-linejoin="round"/>
<rect x="381.4" y="193.3" width="296.0" height="141.2" fill="none" stroke="#555555" stroke-width="1.2"/>
<text x="378.7" y="337.9" font-size="9.3" text-anchor="end" font-weight="normal" fill="#262626">0</text>
<text x="378.7" y="309.65999999999997" font-size="9.3" text-anchor="end" font-weight="normal" fill="#262626">0.2</text>
<text x="378.7" y="281.41999999999996" font-size="9.3" text-anchor="end" font-weight="normal" fill="#262626">0.4</text>
<text x="378.7" y="253.18" font-size="9.3" text-anchor="end" font-weight="normal" fill="#262626">0.6</text>
<text x="378.7" y="224.94000000000003" font-size="9.3" text-anchor="end" font-weight="normal" fill="#262626">0.8</text>
<text x="378.7" y="196.70000000000002" font-size="9.3" text-anchor="end" font-weight="normal" fill="#262626">1</text>
<text x="456.8" y="347.0" font-size="9.3" text-anchor="end" fill="#262626" textLength="9.6" lengthAdjust="spacingAndGlyphs">10</text>
<text x="457.0" y="342.6" font-size="6.8" text-anchor="start" fill="#262626">-4</text>
<text x="530.8" y="347.0" font-size="9.3" text-anchor="end" fill="#262626" textLength="9.6" lengthAdjust="spacingAndGlyphs">10</text>
<text x="531.0" y="342.6" font-size="6.8" text-anchor="start" fill="#262626">-3</text>
<text x="604.8" y="347.0" font-size="9.3" text-anchor="end" fill="#262626" textLength="9.6" lengthAdjust="spacingAndGlyphs">10</text>
<text x="605.0" y="342.6" font-size="6.8" text-anchor="start" fill="#262626">-2</text>
<text x="678.8" y="347.0" font-size="9.3" text-anchor="end" fill="#262626" textLength="9.6" lengthAdjust="spacingAndGlyphs">10</text>
<text x="679.0" y="342.6" font-size="6.8" text-anchor="start" fill="#262626">-1</text>
<text x="467.8" y="358.5" font-size="10" text-anchor="start" font-weight="normal" fill="#262626" textLength="122.3" lengthAdjust="spacingAndGlyphs">Normalized frequency (a.u.)</text>
<text transform="translate(363.9,342.0) rotate(-90)" font-size="10.3" text-anchor="start" font-weight="normal" fill="#262626" textLength="155.2" lengthAdjust="spacingAndGlyphs">Normalized spectral intensity (a.u.)</text>
<text x="390.3" y="207.8" font-size="20" text-anchor="start" font-weight="bold" fill="#000">d</text>
</svg>
</body></html>
